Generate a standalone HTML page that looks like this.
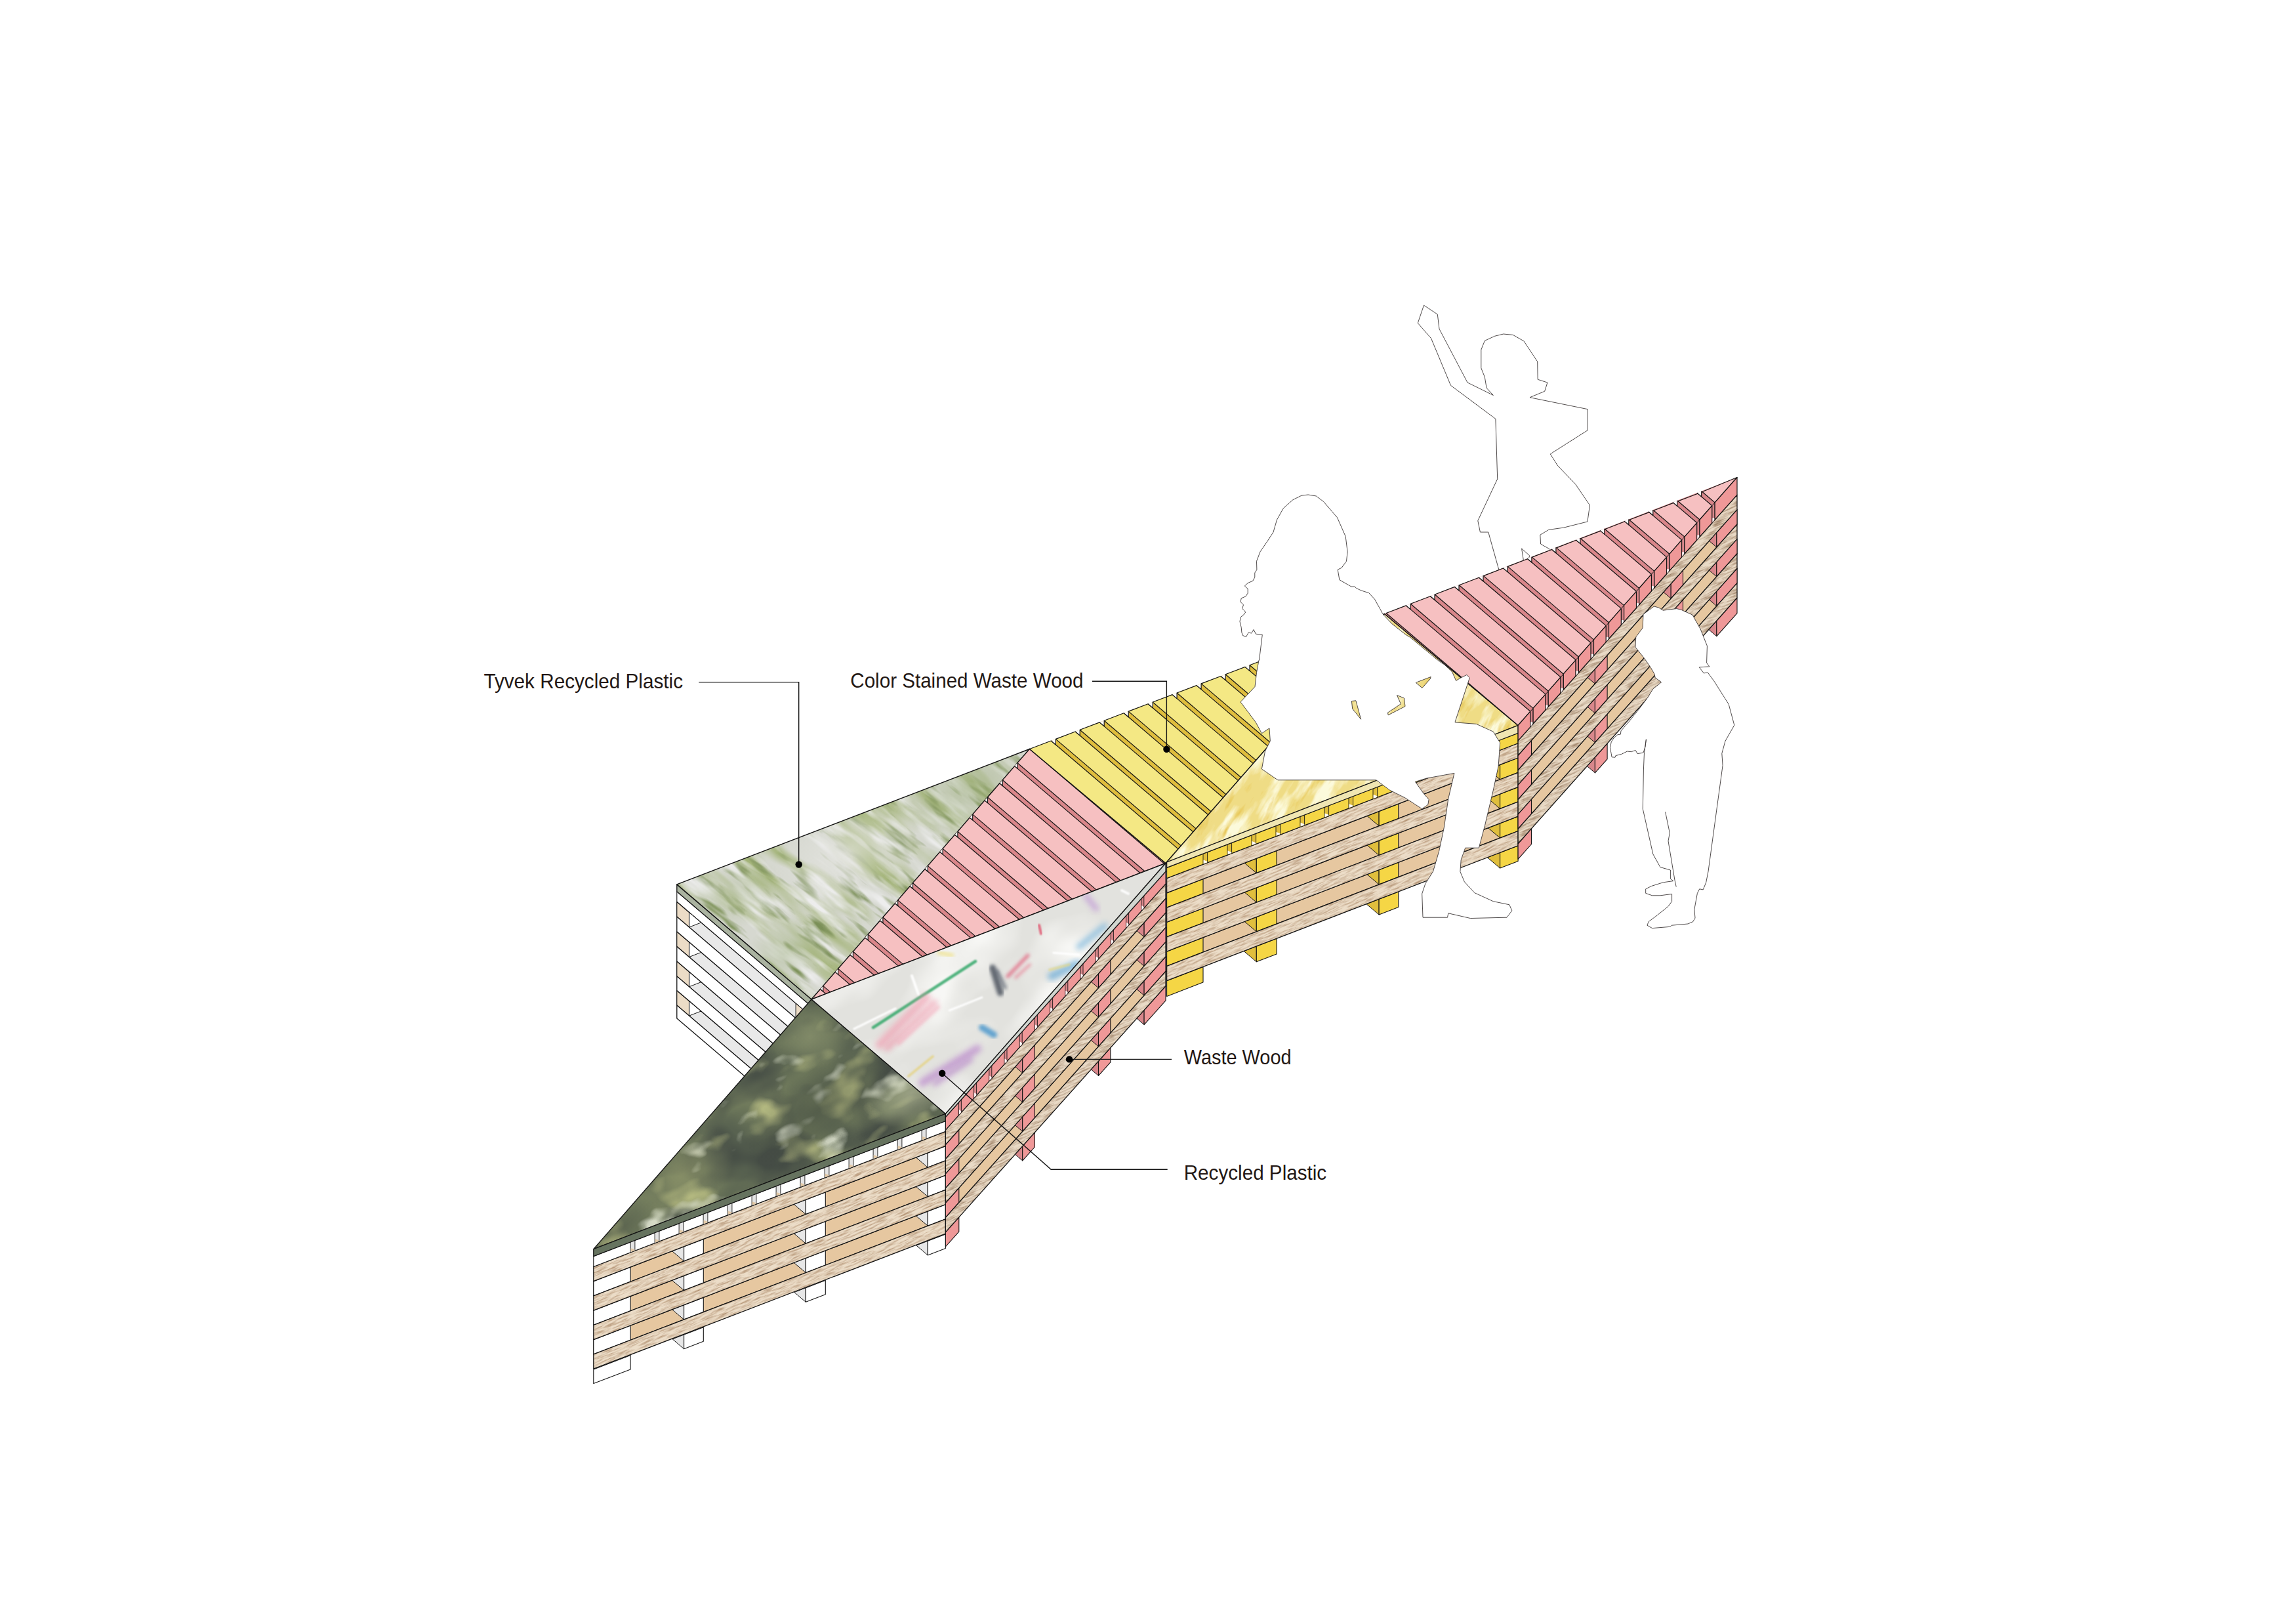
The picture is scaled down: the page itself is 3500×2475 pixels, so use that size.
<!DOCTYPE html>
<html><head><meta charset="utf-8"><title>Bench</title>
<style>html,body{margin:0;padding:0;background:#fff;} svg{display:block;}</style>
</head><body>
<svg xmlns="http://www.w3.org/2000/svg" width="3500" height="2475" viewBox="0 0 3500 2475">
<defs><filter id="fwood" x="0" y="0" width="800" height="240" filterUnits="userSpaceOnUse" color-interpolation-filters="sRGB">
<feTurbulence type="fractalNoise" baseFrequency="0.05 0.45" numOctaves="4" seed="7" stitchTiles="stitch" result="n"/>
<feColorMatrix in="n" type="matrix" values="0 0 0 0 0.66  0 0 0 0 0.52  0 0 0 0 0.39  -1.9 0 0 0 1.12" result="s"/>
<feComposite in="s" in2="SourceGraphic" operator="over"/>
</filter>
<pattern id="wood" patternUnits="userSpaceOnUse" width="800" height="240" patternTransform="rotate(-24)">
<rect width="800" height="240" fill="#ecddc8" filter="url(#fwood)"/>
</pattern>
<filter id="fwoodR" x="0" y="0" width="800" height="240" filterUnits="userSpaceOnUse" color-interpolation-filters="sRGB">
<feTurbulence type="fractalNoise" baseFrequency="0.05 0.45" numOctaves="4" seed="5" stitchTiles="stitch" result="n"/>
<feColorMatrix in="n" type="matrix" values="0 0 0 0 0.58  0 0 0 0 0.46  0 0 0 0 0.35  -2.0 0 0 0 1.18" result="s"/>
<feComposite in="s" in2="SourceGraphic" operator="over"/>
</filter>
<pattern id="woodR" patternUnits="userSpaceOnUse" width="800" height="240" patternTransform="rotate(-24)">
<rect width="800" height="240" fill="#e9dac6" filter="url(#fwoodR)"/>
</pattern>
<filter id="ty1" x="0" y="0" width="1" height="1" color-interpolation-filters="sRGB">
<feTurbulence type="fractalNoise" baseFrequency="0.006 0.025" numOctaves="3" seed="21" result="n"/>
<feColorMatrix in="n" type="matrix" values="0 0 0 0 0.62  0 0 0 0 0.69  0 0 0 0 0.44  3.0 0 0 0 -1.22"/>
</filter>
<filter id="ty2" x="0" y="0" width="1" height="1" color-interpolation-filters="sRGB">
<feTurbulence type="fractalNoise" baseFrequency="0.014 0.07" numOctaves="3" seed="22" result="n"/>
<feColorMatrix in="n" type="matrix" values="0 0 0 0 0.48  0 0 0 0 0.56  0 0 0 0 0.34  3.6 0 0 0 -1.95"/>
</filter>
<filter id="ty3" x="0" y="0" width="1" height="1" color-interpolation-filters="sRGB">
<feTurbulence type="fractalNoise" baseFrequency="0.012 0.06" numOctaves="3" seed="23" result="n"/>
<feColorMatrix in="n" type="matrix" values="0 0 0 0 0.93  0 0 0 0 0.93  0 0 0 0 0.93  3.0 0 0 0 -1.45"/>
</filter>
<filter id="dg1" x="0" y="0" width="1" height="1" color-interpolation-filters="sRGB">
<feTurbulence type="fractalNoise" baseFrequency="0.007 0.01" numOctaves="3" seed="31" result="n"/>
<feColorMatrix in="n" type="matrix" values="0 0 0 0 0.44  0 0 0 0 0.48  0 0 0 0 0.36  3.5 0 0 0 -1.3"/>
</filter>
<filter id="dg2" x="0" y="0" width="1" height="1" color-interpolation-filters="sRGB">
<feTurbulence type="fractalNoise" baseFrequency="0.012 0.018" numOctaves="3" seed="32" result="n"/>
<feColorMatrix in="n" type="matrix" values="0 0 0 0 0.7  0 0 0 0 0.72  0 0 0 0 0.5  4.0 0 0 0 -2.15"/>
</filter>
<filter id="dg3" x="0" y="0" width="1" height="1" color-interpolation-filters="sRGB">
<feTurbulence type="fractalNoise" baseFrequency="0.009 0.013" numOctaves="3" seed="33" result="n"/>
<feColorMatrix in="n" type="matrix" values="0 0 0 0 0.27  0 0 0 0 0.3  0 0 0 0 0.27  3.5 0 0 0 -1.55"/>
</filter>
<filter id="dg4" x="0" y="0" width="1" height="1" color-interpolation-filters="sRGB">
<feTurbulence type="fractalNoise" baseFrequency="0.015 0.025" numOctaves="3" seed="34" result="n"/>
<feColorMatrix in="n" type="matrix" values="0 0 0 0 0.84  0 0 0 0 0.86  0 0 0 0 0.78  4.5 0 0 0 -2.7"/>
</filter>
<filter id="yt1" x="0" y="0" width="1" height="1" color-interpolation-filters="sRGB">
<feTurbulence type="fractalNoise" baseFrequency="0.015 0.06" numOctaves="4" seed="41" result="n"/>
<feColorMatrix in="n" type="matrix" values="0 0 0 0 0.99  0 0 0 0 0.98  0 0 0 0 0.86  3.5 0 0 0 -1.55"/>
</filter>
<filter id="yt2" x="0" y="0" width="1" height="1" color-interpolation-filters="sRGB">
<feTurbulence type="fractalNoise" baseFrequency="0.02 0.08" numOctaves="4" seed="42" result="n"/>
<feColorMatrix in="n" type="matrix" values="0 0 0 0 0.9  0 0 0 0 0.76  0 0 0 0 0.3  3.0 0 0 0 -1.8"/>
</filter>
<filter id="rc1" x="0" y="0" width="1" height="1" color-interpolation-filters="sRGB">
<feTurbulence type="fractalNoise" baseFrequency="0.006 0.01" numOctaves="3" seed="51" result="n"/>
<feColorMatrix in="n" type="matrix" values="0 0 0 0 0.97  0 0 0 0 0.97  0 0 0 0 0.96  3.0 0 0 0 -1.3"/>
</filter>
<filter id="blur2" x="-50%" y="-50%" width="200%" height="200%"><feGaussianBlur stdDeviation="1.2"/></filter>
<filter id="blur3" x="-50%" y="-50%" width="200%" height="200%"><feGaussianBlur stdDeviation="2.5"/></filter>
<filter id="blur5" x="-50%" y="-50%" width="200%" height="200%"><feGaussianBlur stdDeviation="4"/></filter>
<clipPath id="cT1"><polygon points="1031.8,1347.9 1569.5,1141.5 1237.0,1523.0"/></clipPath>
<clipPath id="cT6"><polygon points="1777.0,1315.5 2110.5,935.5 2314.1,1105.5"/></clipPath>
<clipPath id="cT3"><polygon points="904.8,1903.6 1237.0,1523.0 1441.4,1697.5"/></clipPath>
<clipPath id="cT4"><polygon points="1237.0,1523.0 1777.0,1315.5 1441.4,1697.5"/></clipPath>
<radialGradient id="gty1"><stop offset="0" stop-color="#e6e6e2" stop-opacity="0.75"/><stop offset="1" stop-color="#e6e6e2" stop-opacity="0"/></radialGradient>
<radialGradient id="gty2"><stop offset="0" stop-color="#8fa468" stop-opacity="0.45"/><stop offset="1" stop-color="#8fa468" stop-opacity="0"/></radialGradient>
<radialGradient id="gty3"><stop offset="0" stop-color="#9cae78" stop-opacity="0.35"/><stop offset="1" stop-color="#9cae78" stop-opacity="0"/></radialGradient>
<radialGradient id="gty4"><stop offset="0" stop-color="#95aa70" stop-opacity="0.35"/><stop offset="1" stop-color="#95aa70" stop-opacity="0"/></radialGradient>
<radialGradient id="gdg1"><stop offset="0" stop-color="#c4c8a8" stop-opacity="0.55"/><stop offset="1" stop-color="#c4c8a8" stop-opacity="0"/></radialGradient>
<radialGradient id="gdg2"><stop offset="0" stop-color="#a8b080" stop-opacity="0.45"/><stop offset="1" stop-color="#a8b080" stop-opacity="0"/></radialGradient>
<radialGradient id="gdg3"><stop offset="0" stop-color="#3e463c" stop-opacity="0.45"/><stop offset="1" stop-color="#3e463c" stop-opacity="0"/></radialGradient>
<radialGradient id="gdg4"><stop offset="0" stop-color="#b0b47a" stop-opacity="0.35"/><stop offset="1" stop-color="#b0b47a" stop-opacity="0"/></radialGradient>
<radialGradient id="gdg5"><stop offset="0" stop-color="#40483e" stop-opacity="0.4"/><stop offset="1" stop-color="#40483e" stop-opacity="0"/></radialGradient></defs>
<rect width="3500" height="2475" fill="#fff"/>
<path d="M2170.5,465.2 L2191.3,479.1 L2194.0,501.3 L2237.0,583.0 L2276.3,602.4 L2266.1,591.3 L2263.3,574.7 L2257.8,560.8 L2257.8,533.1 L2263.3,519.3 L2278.5,512.3 L2291.8,509.0 L2306.3,510.4 L2322.9,519.8 L2343.7,551.1 L2344.2,578.3 L2358.9,583.0 L2354.7,596.3 L2332.0,605.7 L2420.4,623.7 L2420.4,655.6 L2363.3,691.9 L2374.1,709.1 L2401.8,738.2 L2423.5,770.0 L2419.9,795.0 L2383.8,804.1 L2360.8,807.4 L2347.8,815.2 L2348.6,829.1 L2361.7,836.5 L2370.0,843.5 L2334.0,882.3 L2289.6,882.3 L2284.1,865.6 L2268.8,811.0 L2256.4,811.0 L2252.8,793.6 L2282.7,729.9 L2279.9,638.4 L2211.5,587.4 L2181.6,515.7 L2161.3,492.4 Z" fill="#ffffff" stroke="#3a3434" stroke-width="0.9" stroke-linejoin="round" fill-rule="evenodd"/>
<path d="M2319.6,836.0 L2331.7,846.8 L2328.4,857.3 L2322.9,857.3 Z" fill="#ffffff" stroke="#3a3434" stroke-width="0.9" stroke-linejoin="round" fill-rule="evenodd"/>
<polygon points="1031.8,1358.7 1237.0,1533.8 1237.0,1549.6 1031.8,1374.5" fill="#ffffff" stroke="#141414" stroke-width="1.1" stroke-linejoin="round"/>
<polygon points="1031.8,1374.5 1237.0,1549.6 1237.0,1572.2 1031.8,1397.1" fill="#e8e8e8" stroke="#141414" stroke-width="1.1" stroke-linejoin="round"/>
<polygon points="1050.5,1390.5 1068.7,1406.0 1050.5,1413.1" fill="#ffffff" stroke="#141414" stroke-width="1.0" stroke-linejoin="round"/>
<polygon points="1031.8,1374.5 1050.5,1390.5 1050.5,1413.1 1031.8,1397.1" fill="#ecdcc6" stroke="#141414" stroke-width="1.1" stroke-linejoin="round"/>
<polygon points="1213.1,1529.2 1224.9,1539.3 1224.9,1561.9 1213.1,1551.8" fill="#ecdcc6" stroke="#141414" stroke-width="1.0" stroke-linejoin="round"/>
<polygon points="1031.8,1419.8 1237.0,1594.9 1237.0,1617.6 1031.8,1442.5" fill="#e8e8e8" stroke="#141414" stroke-width="1.1" stroke-linejoin="round"/>
<polygon points="1050.5,1435.8 1068.8,1451.4 1050.5,1458.5" fill="#ffffff" stroke="#141414" stroke-width="1.0" stroke-linejoin="round"/>
<polygon points="1031.8,1419.8 1050.5,1435.8 1050.5,1458.5 1031.8,1442.5" fill="#ecdcc6" stroke="#141414" stroke-width="1.1" stroke-linejoin="round"/>
<polygon points="1213.1,1574.5 1224.9,1584.6 1224.9,1607.3 1213.1,1597.2" fill="#ecdcc6" stroke="#141414" stroke-width="1.0" stroke-linejoin="round"/>
<polygon points="1031.8,1465.1 1237.0,1640.2 1237.0,1662.9 1031.8,1487.8" fill="#e8e8e8" stroke="#141414" stroke-width="1.1" stroke-linejoin="round"/>
<polygon points="1050.5,1481.1 1068.8,1496.7 1050.5,1503.8" fill="#ffffff" stroke="#141414" stroke-width="1.0" stroke-linejoin="round"/>
<polygon points="1031.8,1465.1 1050.5,1481.1 1050.5,1503.8 1031.8,1487.8" fill="#ecdcc6" stroke="#141414" stroke-width="1.1" stroke-linejoin="round"/>
<polygon points="1213.1,1619.8 1224.9,1629.9 1224.9,1652.6 1213.1,1642.5" fill="#ecdcc6" stroke="#141414" stroke-width="1.0" stroke-linejoin="round"/>
<polygon points="1031.8,1509.5 1237.0,1684.6 1237.0,1707.2 1031.8,1532.1" fill="#e8e8e8" stroke="#141414" stroke-width="1.1" stroke-linejoin="round"/>
<polygon points="1050.5,1525.5 1068.7,1541.0 1050.5,1548.1" fill="#ffffff" stroke="#141414" stroke-width="1.0" stroke-linejoin="round"/>
<polygon points="1031.8,1509.5 1050.5,1525.5 1050.5,1548.1 1031.8,1532.1" fill="#ecdcc6" stroke="#141414" stroke-width="1.1" stroke-linejoin="round"/>
<polygon points="1213.1,1664.2 1224.9,1674.3 1224.9,1696.9 1213.1,1686.8" fill="#ecdcc6" stroke="#141414" stroke-width="1.0" stroke-linejoin="round"/>
<polygon points="1031.8,1397.1 1237.0,1572.2 1237.0,1594.9 1031.8,1419.8" fill="#ffffff" stroke="#141414" stroke-width="1.3" stroke-linejoin="round"/>
<polygon points="1031.8,1442.5 1237.0,1617.6 1237.0,1640.2 1031.8,1465.1" fill="#ffffff" stroke="#141414" stroke-width="1.3" stroke-linejoin="round"/>
<polygon points="1031.8,1487.8 1237.0,1662.9 1237.0,1684.6 1031.8,1509.5" fill="#ffffff" stroke="#141414" stroke-width="1.3" stroke-linejoin="round"/>
<polygon points="1031.8,1532.1 1237.0,1707.2 1237.0,1727.0 1031.8,1551.9" fill="#ffffff" stroke="#141414" stroke-width="1.3" stroke-linejoin="round"/>
<polygon points="1031.8,1347.9 1237.0,1523.0 1237.0,1533.8 1031.8,1358.7" fill="#aab3a0" stroke="#141414" stroke-width="1.3" stroke-linejoin="round"/>
<g clip-path="url(#cT1)">
<polygon points="1031.8,1347.9 1569.5,1141.5 1237.0,1523.0" fill="#d6d8d0" stroke="none"/>
<rect x="870" y="902" width="860" height="860" filter="url(#ty1)" transform="rotate(38 1301 1332)"/>
<rect x="870" y="902" width="860" height="860" filter="url(#ty2)" transform="rotate(38 1301 1332)"/>
<rect x="870" y="902" width="860" height="860" filter="url(#ty3)" transform="rotate(38 1301 1332)"/>
<ellipse cx="1290" cy="1300" rx="120" ry="70" fill="url(#gty1)" transform="rotate(-25 1290 1300)"/>
<ellipse cx="1480" cy="1200" rx="110" ry="60" fill="url(#gty2)" transform="rotate(-25 1480 1200)"/>
<ellipse cx="1110" cy="1370" rx="90" ry="50" fill="url(#gty3)" transform="rotate(-25 1110 1370)"/>
<ellipse cx="1200" cy="1450" rx="70" ry="50" fill="url(#gty4)" transform="rotate(-25 1200 1450)"/>
</g>
<polygon points="1031.8,1347.9 1569.5,1141.5 1237.0,1523.0" fill="none" stroke="#141414" stroke-width="1.4" stroke-linejoin="round"/>
<polygon points="1569.5,1141.5 1777.0,1315.5 1237.0,1523.0" fill="#d9868a" stroke="none"/>
<line x1="1569.5" y1="1141.5" x2="1777.0" y2="1315.5" stroke="#141414" stroke-width="1.3" stroke-linecap="round"/>
<line x1="1777.0" y1="1315.5" x2="1237.0" y2="1523.0" stroke="#141414" stroke-width="1.3" stroke-linecap="round"/>
<polygon points="1569.5,1141.5 1774.9,1316.3 1745.0,1327.8 1551.0,1162.7" fill="#f6c0c1" stroke="#141414" stroke-width="1.2" stroke-linejoin="round"/>
<polygon points="1546.7,1167.6 1738.0,1330.5 1708.2,1342.0 1528.3,1188.8" fill="#f6c0c1" stroke="#141414" stroke-width="1.2" stroke-linejoin="round"/>
<polygon points="1523.9,1193.8 1701.2,1344.6 1671.3,1356.1 1505.5,1215.0" fill="#f6c0c1" stroke="#141414" stroke-width="1.2" stroke-linejoin="round"/>
<polygon points="1501.1,1219.9 1664.3,1358.8 1634.4,1370.3 1482.7,1241.1" fill="#f6c0c1" stroke="#141414" stroke-width="1.2" stroke-linejoin="round"/>
<polygon points="1478.3,1246.1 1627.4,1373.0 1597.6,1384.5 1459.9,1267.3" fill="#f6c0c1" stroke="#141414" stroke-width="1.2" stroke-linejoin="round"/>
<polygon points="1455.6,1272.2 1590.6,1387.1 1560.7,1398.6 1437.1,1293.4" fill="#f6c0c1" stroke="#141414" stroke-width="1.2" stroke-linejoin="round"/>
<polygon points="1432.8,1298.4 1553.7,1401.3 1523.8,1412.8 1414.3,1319.6" fill="#f6c0c1" stroke="#141414" stroke-width="1.2" stroke-linejoin="round"/>
<polygon points="1410.0,1324.5 1516.8,1415.5 1487.0,1426.9 1391.5,1345.7" fill="#f6c0c1" stroke="#141414" stroke-width="1.2" stroke-linejoin="round"/>
<polygon points="1387.2,1350.7 1480.0,1429.6 1450.1,1441.1 1368.7,1371.9" fill="#f6c0c1" stroke="#141414" stroke-width="1.2" stroke-linejoin="round"/>
<polygon points="1364.4,1376.8 1443.1,1443.8 1413.2,1455.3 1345.9,1398.0" fill="#f6c0c1" stroke="#141414" stroke-width="1.2" stroke-linejoin="round"/>
<polygon points="1341.6,1403.0 1406.2,1458.0 1376.4,1469.4 1323.2,1424.1" fill="#f6c0c1" stroke="#141414" stroke-width="1.2" stroke-linejoin="round"/>
<polygon points="1318.8,1429.1 1369.4,1472.1 1339.5,1483.6 1300.4,1450.3" fill="#f6c0c1" stroke="#141414" stroke-width="1.2" stroke-linejoin="round"/>
<polygon points="1296.0,1455.3 1332.5,1486.3 1302.6,1497.8 1277.6,1476.4" fill="#f6c0c1" stroke="#141414" stroke-width="1.2" stroke-linejoin="round"/>
<polygon points="1273.3,1481.4 1295.6,1500.5 1265.8,1511.9 1254.8,1502.6" fill="#f6c0c1" stroke="#141414" stroke-width="1.2" stroke-linejoin="round"/>
<polygon points="1250.5,1507.5 1258.8,1514.6 1237.0,1523.0" fill="#f6c0c1" stroke="#141414" stroke-width="1.2" stroke-linejoin="round"/>
<polygon points="1022.6,1769.0 1026.9,1764.0 1026.9,1772.7" fill="#ffffff" stroke="none"/><path d="M1022.6,1769.0 L1026.9,1772.7 L1026.9,1764.0" fill="none" stroke="#141414" stroke-width="1.2" stroke-linejoin="round"/>
<polygon points="1045.4,1742.9 1049.7,1737.9 1049.7,1746.5" fill="#ffffff" stroke="none"/><path d="M1045.4,1742.9 L1049.7,1746.5 L1049.7,1737.9" fill="none" stroke="#141414" stroke-width="1.2" stroke-linejoin="round"/>
<polygon points="1068.2,1716.7 1072.5,1711.8 1072.5,1720.4" fill="#ffffff" stroke="none"/><path d="M1068.2,1716.7 L1072.5,1720.4 L1072.5,1711.8" fill="none" stroke="#141414" stroke-width="1.2" stroke-linejoin="round"/>
<polygon points="1090.9,1690.6 1095.3,1685.6 1095.3,1694.2" fill="#ffffff" stroke="none"/><path d="M1090.9,1690.6 L1095.3,1694.2 L1095.3,1685.6" fill="none" stroke="#141414" stroke-width="1.2" stroke-linejoin="round"/>
<polygon points="1113.7,1664.4 1118.1,1659.5 1118.1,1668.1" fill="#ffffff" stroke="none"/><path d="M1113.7,1664.4 L1118.1,1668.1 L1118.1,1659.5" fill="none" stroke="#141414" stroke-width="1.2" stroke-linejoin="round"/>
<polygon points="1136.5,1638.3 1140.9,1633.3 1140.9,1642.0" fill="#ffffff" stroke="none"/><path d="M1136.5,1638.3 L1140.9,1642.0 L1140.9,1633.3" fill="none" stroke="#141414" stroke-width="1.2" stroke-linejoin="round"/>
<polygon points="1159.3,1612.1 1163.6,1607.2 1163.6,1615.8" fill="#ffffff" stroke="none"/><path d="M1159.3,1612.1 L1163.6,1615.8 L1163.6,1607.2" fill="none" stroke="#141414" stroke-width="1.2" stroke-linejoin="round"/>
<polygon points="1182.1,1586.0 1186.4,1581.0 1186.4,1589.7" fill="#ffffff" stroke="none"/><path d="M1182.1,1586.0 L1186.4,1589.7 L1186.4,1581.0" fill="none" stroke="#141414" stroke-width="1.2" stroke-linejoin="round"/>
<polygon points="1204.9,1559.8 1209.2,1554.9 1209.2,1563.5" fill="#ffffff" stroke="none"/><path d="M1204.9,1559.8 L1209.2,1563.5 L1209.2,1554.9" fill="none" stroke="#141414" stroke-width="1.2" stroke-linejoin="round"/>
<polygon points="1227.7,1533.7 1232.0,1528.7 1232.0,1537.4" fill="#ffffff" stroke="none"/><path d="M1227.7,1533.7 L1232.0,1537.4 L1232.0,1528.7" fill="none" stroke="#141414" stroke-width="1.2" stroke-linejoin="round"/>
<polygon points="1250.5,1507.5 1254.8,1502.6 1254.8,1511.2" fill="#ffffff" stroke="none"/><path d="M1250.5,1507.5 L1254.8,1511.2 L1254.8,1502.6" fill="none" stroke="#141414" stroke-width="1.2" stroke-linejoin="round"/>
<polygon points="1273.3,1481.4 1277.6,1476.4 1277.6,1485.1" fill="#ffffff" stroke="none"/><path d="M1273.3,1481.4 L1277.6,1485.1 L1277.6,1476.4" fill="none" stroke="#141414" stroke-width="1.2" stroke-linejoin="round"/>
<polygon points="1296.0,1455.3 1300.4,1450.3 1300.4,1458.9" fill="#ffffff" stroke="none"/><path d="M1296.0,1455.3 L1300.4,1458.9 L1300.4,1450.3" fill="none" stroke="#141414" stroke-width="1.2" stroke-linejoin="round"/>
<polygon points="1318.8,1429.1 1323.2,1424.1 1323.2,1432.8" fill="#ffffff" stroke="none"/><path d="M1318.8,1429.1 L1323.2,1432.8 L1323.2,1424.1" fill="none" stroke="#141414" stroke-width="1.2" stroke-linejoin="round"/>
<polygon points="1341.6,1403.0 1345.9,1398.0 1345.9,1406.6" fill="#ffffff" stroke="none"/><path d="M1341.6,1403.0 L1345.9,1406.6 L1345.9,1398.0" fill="none" stroke="#141414" stroke-width="1.2" stroke-linejoin="round"/>
<polygon points="1364.4,1376.8 1368.7,1371.9 1368.7,1380.5" fill="#ffffff" stroke="none"/><path d="M1364.4,1376.8 L1368.7,1380.5 L1368.7,1371.9" fill="none" stroke="#141414" stroke-width="1.2" stroke-linejoin="round"/>
<polygon points="1387.2,1350.7 1391.5,1345.7 1391.5,1354.3" fill="#ffffff" stroke="none"/><path d="M1387.2,1350.7 L1391.5,1354.3 L1391.5,1345.7" fill="none" stroke="#141414" stroke-width="1.2" stroke-linejoin="round"/>
<polygon points="1410.0,1324.5 1414.3,1319.6 1414.3,1328.2" fill="#ffffff" stroke="none"/><path d="M1410.0,1324.5 L1414.3,1328.2 L1414.3,1319.6" fill="none" stroke="#141414" stroke-width="1.2" stroke-linejoin="round"/>
<polygon points="1432.8,1298.4 1437.1,1293.4 1437.1,1302.0" fill="#ffffff" stroke="none"/><path d="M1432.8,1298.4 L1437.1,1302.0 L1437.1,1293.4" fill="none" stroke="#141414" stroke-width="1.2" stroke-linejoin="round"/>
<polygon points="1455.6,1272.2 1459.9,1267.3 1459.9,1275.9" fill="#ffffff" stroke="none"/><path d="M1455.6,1272.2 L1459.9,1275.9 L1459.9,1267.3" fill="none" stroke="#141414" stroke-width="1.2" stroke-linejoin="round"/>
<polygon points="1478.3,1246.1 1482.7,1241.1 1482.7,1249.8" fill="#ffffff" stroke="none"/><path d="M1478.3,1246.1 L1482.7,1249.8 L1482.7,1241.1" fill="none" stroke="#141414" stroke-width="1.2" stroke-linejoin="round"/>
<polygon points="1501.1,1219.9 1505.5,1215.0 1505.5,1223.6" fill="#ffffff" stroke="none"/><path d="M1501.1,1219.9 L1505.5,1223.6 L1505.5,1215.0" fill="none" stroke="#141414" stroke-width="1.2" stroke-linejoin="round"/>
<polygon points="1523.9,1193.8 1528.3,1188.8 1528.3,1197.5" fill="#ffffff" stroke="none"/><path d="M1523.9,1193.8 L1528.3,1197.5 L1528.3,1188.8" fill="none" stroke="#141414" stroke-width="1.2" stroke-linejoin="round"/>
<polygon points="1546.7,1167.6 1551.0,1162.7 1551.0,1171.3" fill="#ffffff" stroke="none"/><path d="M1546.7,1167.6 L1551.0,1171.3 L1551.0,1162.7" fill="none" stroke="#141414" stroke-width="1.2" stroke-linejoin="round"/>
<polygon points="1569.5,1141.5 2110.5,935.5 1777.0,1315.5" fill="#dfbd3d" stroke="none"/>
<line x1="2110.5" y1="935.5" x2="1777.0" y2="1315.5" stroke="#141414" stroke-width="1.3" stroke-linecap="round"/>
<line x1="1777.0" y1="1315.5" x2="1569.5" y2="1141.5" stroke="#141414" stroke-width="1.3" stroke-linecap="round"/>
<polygon points="1602.3,1129.0 1796.0,1293.9 1777.0,1315.5 1569.5,1141.5" fill="#f4e884" stroke="#141414" stroke-width="1.2" stroke-linejoin="round"/>
<polygon points="1639.2,1115.0 1818.8,1267.8 1800.3,1288.9 1609.3,1126.4" fill="#f4e884" stroke="#141414" stroke-width="1.2" stroke-linejoin="round"/>
<polygon points="1676.2,1100.9 1841.7,1241.8 1823.2,1262.9 1646.2,1112.3" fill="#f4e884" stroke="#141414" stroke-width="1.2" stroke-linejoin="round"/>
<polygon points="1713.2,1086.8 1864.6,1215.7 1846.1,1236.8 1683.2,1098.2" fill="#f4e884" stroke="#141414" stroke-width="1.2" stroke-linejoin="round"/>
<polygon points="1750.1,1072.7 1887.5,1189.6 1868.9,1210.7 1720.2,1084.1" fill="#f4e884" stroke="#141414" stroke-width="1.2" stroke-linejoin="round"/>
<polygon points="1787.1,1058.6 1910.4,1163.6 1891.8,1184.7 1757.2,1070.0" fill="#f4e884" stroke="#141414" stroke-width="1.2" stroke-linejoin="round"/>
<polygon points="1824.1,1044.6 1933.2,1137.5 1914.7,1158.6 1794.1,1056.0" fill="#f4e884" stroke="#141414" stroke-width="1.2" stroke-linejoin="round"/>
<polygon points="1861.0,1030.5 1956.1,1111.4 1937.6,1132.5 1831.1,1041.9" fill="#f4e884" stroke="#141414" stroke-width="1.2" stroke-linejoin="round"/>
<polygon points="1898.0,1016.4 1979.0,1085.3 1960.5,1106.5 1868.1,1027.8" fill="#f4e884" stroke="#141414" stroke-width="1.2" stroke-linejoin="round"/>
<polygon points="1935.0,1002.3 2001.9,1059.3 1983.3,1080.4 1905.0,1013.7" fill="#f4e884" stroke="#141414" stroke-width="1.2" stroke-linejoin="round"/>
<polygon points="1971.9,988.3 2024.8,1033.2 2006.2,1054.3 1942.0,999.7" fill="#f4e884" stroke="#141414" stroke-width="1.2" stroke-linejoin="round"/>
<polygon points="2008.9,974.2 2047.6,1007.1 2029.1,1028.3 1979.0,985.6" fill="#f4e884" stroke="#141414" stroke-width="1.2" stroke-linejoin="round"/>
<polygon points="2045.9,960.1 2070.5,981.1 2052.0,1002.2 2015.9,971.5" fill="#f4e884" stroke="#141414" stroke-width="1.2" stroke-linejoin="round"/>
<polygon points="2082.9,946.0 2093.4,955.0 2074.9,976.1 2052.9,957.4" fill="#f4e884" stroke="#141414" stroke-width="1.2" stroke-linejoin="round"/>
<polygon points="2097.7,950.0 2089.9,943.4 2110.5,935.5" fill="#f4e884" stroke="#141414" stroke-width="1.2" stroke-linejoin="round"/>
<polygon points="1602.3,1129.0 1609.3,1126.4 1609.3,1135.0" fill="#ffffff" stroke="none"/><path d="M1602.3,1129.0 L1609.3,1135.0 L1609.3,1126.4" fill="none" stroke="#141414" stroke-width="1.2" stroke-linejoin="round"/>
<polygon points="1639.2,1115.0 1646.2,1112.3 1646.2,1120.9" fill="#ffffff" stroke="none"/><path d="M1639.2,1115.0 L1646.2,1120.9 L1646.2,1112.3" fill="none" stroke="#141414" stroke-width="1.2" stroke-linejoin="round"/>
<polygon points="1676.2,1100.9 1683.2,1098.2 1683.2,1106.8" fill="#ffffff" stroke="none"/><path d="M1676.2,1100.9 L1683.2,1106.8 L1683.2,1098.2" fill="none" stroke="#141414" stroke-width="1.2" stroke-linejoin="round"/>
<polygon points="1713.2,1086.8 1720.2,1084.1 1720.2,1092.7" fill="#ffffff" stroke="none"/><path d="M1713.2,1086.8 L1720.2,1092.7 L1720.2,1084.1" fill="none" stroke="#141414" stroke-width="1.2" stroke-linejoin="round"/>
<polygon points="1750.1,1072.7 1757.2,1070.0 1757.2,1078.7" fill="#ffffff" stroke="none"/><path d="M1750.1,1072.7 L1757.2,1078.7 L1757.2,1070.0" fill="none" stroke="#141414" stroke-width="1.2" stroke-linejoin="round"/>
<polygon points="1787.1,1058.6 1794.1,1056.0 1794.1,1064.6" fill="#ffffff" stroke="none"/><path d="M1787.1,1058.6 L1794.1,1064.6 L1794.1,1056.0" fill="none" stroke="#141414" stroke-width="1.2" stroke-linejoin="round"/>
<polygon points="1824.1,1044.6 1831.1,1041.9 1831.1,1050.5" fill="#ffffff" stroke="none"/><path d="M1824.1,1044.6 L1831.1,1050.5 L1831.1,1041.9" fill="none" stroke="#141414" stroke-width="1.2" stroke-linejoin="round"/>
<polygon points="1861.0,1030.5 1868.1,1027.8 1868.1,1036.4" fill="#ffffff" stroke="none"/><path d="M1861.0,1030.5 L1868.1,1036.4 L1868.1,1027.8" fill="none" stroke="#141414" stroke-width="1.2" stroke-linejoin="round"/>
<polygon points="1898.0,1016.4 1905.0,1013.7 1905.0,1022.4" fill="#ffffff" stroke="none"/><path d="M1898.0,1016.4 L1905.0,1022.4 L1905.0,1013.7" fill="none" stroke="#141414" stroke-width="1.2" stroke-linejoin="round"/>
<polygon points="1935.0,1002.3 1942.0,999.7 1942.0,1008.3" fill="#ffffff" stroke="none"/><path d="M1935.0,1002.3 L1942.0,1008.3 L1942.0,999.7" fill="none" stroke="#141414" stroke-width="1.2" stroke-linejoin="round"/>
<polygon points="1971.9,988.3 1979.0,985.6 1979.0,994.2" fill="#ffffff" stroke="none"/><path d="M1971.9,988.3 L1979.0,994.2 L1979.0,985.6" fill="none" stroke="#141414" stroke-width="1.2" stroke-linejoin="round"/>
<polygon points="2008.9,974.2 2015.9,971.5 2015.9,980.1" fill="#ffffff" stroke="none"/><path d="M2008.9,974.2 L2015.9,980.1 L2015.9,971.5" fill="none" stroke="#141414" stroke-width="1.2" stroke-linejoin="round"/>
<polygon points="2045.9,960.1 2052.9,957.4 2052.9,966.1" fill="#ffffff" stroke="none"/><path d="M2045.9,960.1 L2052.9,966.1 L2052.9,957.4" fill="none" stroke="#141414" stroke-width="1.2" stroke-linejoin="round"/>
<polygon points="2082.9,946.0 2089.9,943.4 2089.9,952.0" fill="#ffffff" stroke="none"/><path d="M2082.9,946.0 L2089.9,952.0 L2089.9,943.4" fill="none" stroke="#141414" stroke-width="1.2" stroke-linejoin="round"/>
<polygon points="2119.8,932.0 2126.8,929.3 2126.8,937.9" fill="#ffffff" stroke="none"/><path d="M2119.8,932.0 L2126.8,937.9 L2126.8,929.3" fill="none" stroke="#141414" stroke-width="1.2" stroke-linejoin="round"/>
<g clip-path="url(#cT6)">
<polygon points="1777.0,1315.5 2110.5,935.5 2314.1,1105.5" fill="#efdc85" stroke="none"/>
<rect x="1616" y="696" width="859" height="859" filter="url(#yt1)" transform="rotate(-60 2046 1126)"/>
<rect x="1616" y="696" width="859" height="859" filter="url(#yt2)" transform="rotate(-60 2046 1126)"/>
</g>
<polygon points="1777.0,1315.5 2110.5,935.5 2314.1,1105.5" fill="none" stroke="#141414" stroke-width="1.4" stroke-linejoin="round"/>
<polygon points="1778.6,1360.9 2314.1,1155.0 2314.1,1177.3 1778.6,1383.2" fill="#e6c7a0" stroke="#141414" stroke-width="1.1" stroke-linejoin="round"/>
<polygon points="1778.6,1405.5 2314.1,1199.6 2314.1,1221.9 1778.6,1427.8" fill="#e6c7a0" stroke="#141414" stroke-width="1.1" stroke-linejoin="round"/>
<polygon points="1778.6,1450.1 2314.1,1244.2 2314.1,1266.5 1778.6,1472.4" fill="#e6c7a0" stroke="#141414" stroke-width="1.1" stroke-linejoin="round"/>
<polygon points="1778.6,1360.9 1834.0,1339.6 1834.0,1361.9 1778.6,1383.2" fill="#f5d645" stroke="#141414" stroke-width="1.1" stroke-linejoin="round"/>
<polygon points="1915.3,1308.3 1915.3,1330.6 1897.2,1315.3" fill="#e0be3d" stroke="#141414" stroke-width="1.0" stroke-linejoin="round"/>
<polygon points="1915.3,1308.3 1946.1,1296.5 1946.1,1318.8 1915.3,1330.6" fill="#f5d645" stroke="#141414" stroke-width="1.1" stroke-linejoin="round"/>
<polygon points="2102.1,1236.5 2102.1,1258.8 2084.0,1243.5" fill="#e0be3d" stroke="#141414" stroke-width="1.0" stroke-linejoin="round"/>
<polygon points="2102.1,1236.5 2131.8,1225.1 2131.8,1247.4 2102.1,1258.8" fill="#f5d645" stroke="#141414" stroke-width="1.1" stroke-linejoin="round"/>
<polygon points="2286.6,1165.6 2286.6,1187.9 2268.5,1172.5" fill="#e0be3d" stroke="#141414" stroke-width="1.0" stroke-linejoin="round"/>
<polygon points="2286.6,1165.6 2314.1,1155.0 2314.1,1177.3 2286.6,1187.9" fill="#f5d645" stroke="#141414" stroke-width="1.1" stroke-linejoin="round"/>
<polygon points="1778.6,1405.5 1834.0,1384.2 1834.0,1406.5 1778.6,1427.8" fill="#f5d645" stroke="#141414" stroke-width="1.1" stroke-linejoin="round"/>
<polygon points="1915.3,1352.9 1915.3,1375.2 1897.2,1359.9" fill="#e0be3d" stroke="#141414" stroke-width="1.0" stroke-linejoin="round"/>
<polygon points="1915.3,1352.9 1946.1,1341.1 1946.1,1363.4 1915.3,1375.2" fill="#f5d645" stroke="#141414" stroke-width="1.1" stroke-linejoin="round"/>
<polygon points="2102.1,1281.1 2102.1,1303.4 2084.0,1288.1" fill="#e0be3d" stroke="#141414" stroke-width="1.0" stroke-linejoin="round"/>
<polygon points="2102.1,1281.1 2131.8,1269.7 2131.8,1292.0 2102.1,1303.4" fill="#f5d645" stroke="#141414" stroke-width="1.1" stroke-linejoin="round"/>
<polygon points="2286.6,1210.2 2286.6,1232.5 2268.5,1217.1" fill="#e0be3d" stroke="#141414" stroke-width="1.0" stroke-linejoin="round"/>
<polygon points="2286.6,1210.2 2314.1,1199.6 2314.1,1221.9 2286.6,1232.5" fill="#f5d645" stroke="#141414" stroke-width="1.1" stroke-linejoin="round"/>
<polygon points="1778.6,1450.1 1834.0,1428.8 1834.0,1451.1 1778.6,1472.4" fill="#f5d645" stroke="#141414" stroke-width="1.1" stroke-linejoin="round"/>
<polygon points="1915.3,1397.5 1915.3,1419.8 1897.2,1404.5" fill="#e0be3d" stroke="#141414" stroke-width="1.0" stroke-linejoin="round"/>
<polygon points="1915.3,1397.5 1946.1,1385.7 1946.1,1408.0 1915.3,1419.8" fill="#f5d645" stroke="#141414" stroke-width="1.1" stroke-linejoin="round"/>
<polygon points="2102.1,1325.7 2102.1,1348.0 2084.0,1332.7" fill="#e0be3d" stroke="#141414" stroke-width="1.0" stroke-linejoin="round"/>
<polygon points="2102.1,1325.7 2131.8,1314.3 2131.8,1336.6 2102.1,1348.0" fill="#f5d645" stroke="#141414" stroke-width="1.1" stroke-linejoin="round"/>
<polygon points="2286.6,1254.8 2286.6,1277.1 2268.5,1261.7" fill="#e0be3d" stroke="#141414" stroke-width="1.0" stroke-linejoin="round"/>
<polygon points="2286.6,1254.8 2314.1,1244.2 2314.1,1266.5 2286.6,1277.1" fill="#f5d645" stroke="#141414" stroke-width="1.1" stroke-linejoin="round"/>
<polygon points="1778.6,1494.7 1834.0,1473.4 1834.0,1497.1 1778.6,1518.4" fill="#f5d645" stroke="#141414" stroke-width="1.1" stroke-linejoin="round"/>
<polygon points="1915.3,1442.1 1915.3,1465.8 1896.1,1449.5" fill="#e0be3d" stroke="#141414" stroke-width="1.0" stroke-linejoin="round"/>
<polygon points="1915.3,1442.1 1946.1,1430.3 1946.1,1454.0 1915.3,1465.8" fill="#f5d645" stroke="#141414" stroke-width="1.1" stroke-linejoin="round"/>
<polygon points="2102.1,1370.3 2102.1,1394.0 2082.9,1377.7" fill="#e0be3d" stroke="#141414" stroke-width="1.0" stroke-linejoin="round"/>
<polygon points="2102.1,1370.3 2131.8,1358.9 2131.8,1382.6 2102.1,1394.0" fill="#f5d645" stroke="#141414" stroke-width="1.1" stroke-linejoin="round"/>
<polygon points="2286.6,1299.4 2286.6,1323.1 2267.4,1306.8" fill="#e0be3d" stroke="#141414" stroke-width="1.0" stroke-linejoin="round"/>
<polygon points="2286.6,1299.4 2314.1,1288.8 2314.1,1312.5 2286.6,1323.1" fill="#f5d645" stroke="#141414" stroke-width="1.1" stroke-linejoin="round"/>
<polygon points="1778.6,1338.6 2314.1,1132.7 2314.1,1155.0 1778.6,1360.9" fill="url(#wood)" stroke="#141414" stroke-width="1.3" stroke-linejoin="round"/>
<polygon points="1778.6,1383.2 2314.1,1177.3 2314.1,1199.6 1778.6,1405.5" fill="url(#wood)" stroke="#141414" stroke-width="1.3" stroke-linejoin="round"/>
<polygon points="1778.6,1427.8 2314.1,1221.9 2314.1,1244.2 1778.6,1450.1" fill="url(#wood)" stroke="#141414" stroke-width="1.3" stroke-linejoin="round"/>
<polygon points="1778.6,1472.4 2314.1,1266.5 2314.1,1288.8 1778.6,1494.7" fill="url(#wood)" stroke="#141414" stroke-width="1.3" stroke-linejoin="round"/>
<polygon points="1778.6,1322.4 2314.1,1116.5 2314.1,1132.7 1778.6,1338.6" fill="#f5d645" stroke="#141414" stroke-width="1.1" stroke-linejoin="round"/>
<polygon points="1834.0,1298.1 1840.6,1295.6 1840.6,1314.8 1834.0,1317.3" fill="#e0be3d" stroke="#141414" stroke-width="0.9" stroke-linejoin="round"/>
<polygon points="1834.6,1310.6 1840.3,1312.9 1840.3,1314.3 1834.6,1316.5" fill="#ffffff" stroke="none"/>
<polygon points="1871.0,1283.9 1877.6,1281.3 1877.6,1300.5 1871.0,1303.1" fill="#e0be3d" stroke="#141414" stroke-width="0.9" stroke-linejoin="round"/>
<polygon points="1871.6,1296.4 1877.3,1298.7 1877.3,1300.0 1871.6,1302.2" fill="#ffffff" stroke="none"/>
<polygon points="1908.0,1269.6 1914.6,1267.1 1914.6,1286.3 1908.0,1288.8" fill="#e0be3d" stroke="#141414" stroke-width="0.9" stroke-linejoin="round"/>
<polygon points="1908.6,1282.1 1914.3,1284.5 1914.3,1285.8 1908.6,1288.0" fill="#ffffff" stroke="none"/>
<polygon points="1945.0,1255.4 1951.6,1252.9 1951.6,1272.1 1945.0,1274.6" fill="#e0be3d" stroke="#141414" stroke-width="0.9" stroke-linejoin="round"/>
<polygon points="1945.6,1267.9 1951.3,1270.3 1951.3,1271.6 1945.6,1273.8" fill="#ffffff" stroke="none"/>
<polygon points="1982.0,1241.2 1988.6,1238.7 1988.6,1257.9 1982.0,1260.4" fill="#e0be3d" stroke="#141414" stroke-width="0.9" stroke-linejoin="round"/>
<polygon points="1982.6,1253.7 1988.3,1256.0 1988.3,1257.4 1982.6,1259.6" fill="#ffffff" stroke="none"/>
<polygon points="2019.0,1227.0 2025.6,1224.4 2025.6,1243.6 2019.0,1246.2" fill="#e0be3d" stroke="#141414" stroke-width="0.9" stroke-linejoin="round"/>
<polygon points="2019.6,1239.5 2025.3,1241.8 2025.3,1243.1 2019.6,1245.3" fill="#ffffff" stroke="none"/>
<polygon points="2056.0,1212.7 2062.6,1210.2 2062.6,1229.4 2056.0,1231.9" fill="#e0be3d" stroke="#141414" stroke-width="0.9" stroke-linejoin="round"/>
<polygon points="2056.6,1225.2 2062.3,1227.6 2062.3,1228.9 2056.6,1231.1" fill="#ffffff" stroke="none"/>
<polygon points="2093.0,1198.5 2099.6,1196.0 2099.6,1215.2 2093.0,1217.7" fill="#e0be3d" stroke="#141414" stroke-width="0.9" stroke-linejoin="round"/>
<polygon points="2093.6,1211.0 2099.3,1213.3 2099.3,1214.7 2093.6,1216.9" fill="#ffffff" stroke="none"/>
<polygon points="2130.0,1184.3 2136.6,1181.7 2136.6,1200.9 2130.0,1203.5" fill="#e0be3d" stroke="#141414" stroke-width="0.9" stroke-linejoin="round"/>
<polygon points="2130.6,1196.8 2136.3,1199.1 2136.3,1200.5 2130.6,1202.7" fill="#ffffff" stroke="none"/>
<polygon points="2167.0,1170.1 2173.6,1167.5 2173.6,1186.7 2167.0,1189.3" fill="#e0be3d" stroke="#141414" stroke-width="0.9" stroke-linejoin="round"/>
<polygon points="2167.6,1182.5 2173.3,1184.9 2173.3,1186.2 2167.6,1188.4" fill="#ffffff" stroke="none"/>
<polygon points="2204.0,1155.8 2210.6,1153.3 2210.6,1172.5 2204.0,1175.0" fill="#e0be3d" stroke="#141414" stroke-width="0.9" stroke-linejoin="round"/>
<polygon points="2204.6,1168.3 2210.3,1170.7 2210.3,1172.0 2204.6,1174.2" fill="#ffffff" stroke="none"/>
<polygon points="2241.0,1141.6 2247.6,1139.1 2247.6,1158.3 2241.0,1160.8" fill="#e0be3d" stroke="#141414" stroke-width="0.9" stroke-linejoin="round"/>
<polygon points="2241.6,1154.1 2247.3,1156.4 2247.3,1157.8 2241.6,1160.0" fill="#ffffff" stroke="none"/>
<polygon points="2278.0,1127.4 2284.6,1124.8 2284.6,1144.0 2278.0,1146.6" fill="#e0be3d" stroke="#141414" stroke-width="0.9" stroke-linejoin="round"/>
<polygon points="2278.6,1139.9 2284.3,1142.2 2284.3,1143.6 2278.6,1145.8" fill="#ffffff" stroke="none"/>
<polygon points="1778.6,1313.8 2314.1,1105.5 2314.1,1117.4 1778.6,1322.4" fill="#f0e6b2" stroke="#141414" stroke-width="1.3" stroke-linejoin="round"/>
<polygon points="2314.1,1151.3 2648.0,776.6 2648.0,799.0 2314.1,1173.7" fill="#e6c7a0" stroke="#141414" stroke-width="1.1" stroke-linejoin="round"/>
<polygon points="2314.1,1196.1 2648.0,821.4 2648.0,843.8 2314.1,1218.5" fill="#e6c7a0" stroke="#141414" stroke-width="1.1" stroke-linejoin="round"/>
<polygon points="2314.1,1240.9 2648.0,866.2 2648.0,888.6 2314.1,1263.3" fill="#e6c7a0" stroke="#141414" stroke-width="1.1" stroke-linejoin="round"/>
<polygon points="2314.1,1151.3 2334.5,1128.4 2334.5,1150.8 2314.1,1173.7" fill="#ef9898" stroke="#141414" stroke-width="1.1" stroke-linejoin="round"/>
<polygon points="2431.4,1019.7 2431.4,1042.1 2420.0,1032.4" fill="#d8878b" stroke="#141414" stroke-width="1.0" stroke-linejoin="round"/>
<polygon points="2431.4,1019.7 2450.1,998.7 2450.1,1021.1 2431.4,1042.1" fill="#ef9898" stroke="#141414" stroke-width="1.1" stroke-linejoin="round"/>
<polygon points="2547.2,889.7 2547.2,912.1 2535.8,902.5" fill="#d8878b" stroke="#141414" stroke-width="1.0" stroke-linejoin="round"/>
<polygon points="2547.2,889.7 2565.5,869.2 2565.5,891.6 2547.2,912.1" fill="#ef9898" stroke="#141414" stroke-width="1.1" stroke-linejoin="round"/>
<polygon points="2616.8,811.6 2616.8,834.0 2605.4,824.3" fill="#d8878b" stroke="#141414" stroke-width="1.0" stroke-linejoin="round"/>
<polygon points="2616.8,811.6 2648.0,776.6 2648.0,799.0 2616.8,834.0" fill="#ef9898" stroke="#141414" stroke-width="1.1" stroke-linejoin="round"/>
<polygon points="2314.1,1196.1 2334.5,1173.2 2334.5,1195.6 2314.1,1218.5" fill="#ef9898" stroke="#141414" stroke-width="1.1" stroke-linejoin="round"/>
<polygon points="2431.4,1064.5 2431.4,1086.9 2420.0,1077.2" fill="#d8878b" stroke="#141414" stroke-width="1.0" stroke-linejoin="round"/>
<polygon points="2431.4,1064.5 2450.1,1043.5 2450.1,1065.9 2431.4,1086.9" fill="#ef9898" stroke="#141414" stroke-width="1.1" stroke-linejoin="round"/>
<polygon points="2547.2,934.5 2547.2,956.9 2535.8,947.3" fill="#d8878b" stroke="#141414" stroke-width="1.0" stroke-linejoin="round"/>
<polygon points="2547.2,934.5 2565.5,914.0 2565.5,936.4 2547.2,956.9" fill="#ef9898" stroke="#141414" stroke-width="1.1" stroke-linejoin="round"/>
<polygon points="2616.8,856.4 2616.8,878.8 2605.4,869.1" fill="#d8878b" stroke="#141414" stroke-width="1.0" stroke-linejoin="round"/>
<polygon points="2616.8,856.4 2648.0,821.4 2648.0,843.8 2616.8,878.8" fill="#ef9898" stroke="#141414" stroke-width="1.1" stroke-linejoin="round"/>
<polygon points="2314.1,1240.9 2334.5,1218.0 2334.5,1240.4 2314.1,1263.3" fill="#ef9898" stroke="#141414" stroke-width="1.1" stroke-linejoin="round"/>
<polygon points="2431.4,1109.3 2431.4,1131.7 2420.0,1122.0" fill="#d8878b" stroke="#141414" stroke-width="1.0" stroke-linejoin="round"/>
<polygon points="2431.4,1109.3 2450.1,1088.3 2450.1,1110.7 2431.4,1131.7" fill="#ef9898" stroke="#141414" stroke-width="1.1" stroke-linejoin="round"/>
<polygon points="2547.2,979.3 2547.2,1001.7 2535.8,992.1" fill="#d8878b" stroke="#141414" stroke-width="1.0" stroke-linejoin="round"/>
<polygon points="2547.2,979.3 2565.5,958.8 2565.5,981.2 2547.2,1001.7" fill="#ef9898" stroke="#141414" stroke-width="1.1" stroke-linejoin="round"/>
<polygon points="2616.8,901.2 2616.8,923.6 2605.4,913.9" fill="#d8878b" stroke="#141414" stroke-width="1.0" stroke-linejoin="round"/>
<polygon points="2616.8,901.2 2648.0,866.2 2648.0,888.6 2616.8,923.6" fill="#ef9898" stroke="#141414" stroke-width="1.1" stroke-linejoin="round"/>
<polygon points="2314.1,1285.8 2334.5,1262.9 2334.5,1286.5 2314.1,1309.4" fill="#ef9898" stroke="#141414" stroke-width="1.1" stroke-linejoin="round"/>
<polygon points="2431.4,1154.2 2431.4,1177.8 2419.4,1167.6" fill="#d8878b" stroke="#141414" stroke-width="1.0" stroke-linejoin="round"/>
<polygon points="2431.4,1154.2 2450.1,1133.2 2450.1,1156.8 2431.4,1177.8" fill="#ef9898" stroke="#141414" stroke-width="1.1" stroke-linejoin="round"/>
<polygon points="2547.2,1024.2 2547.2,1047.8 2535.2,1037.6" fill="#d8878b" stroke="#141414" stroke-width="1.0" stroke-linejoin="round"/>
<polygon points="2547.2,1024.2 2565.5,1003.7 2565.5,1027.3 2547.2,1047.8" fill="#ef9898" stroke="#141414" stroke-width="1.1" stroke-linejoin="round"/>
<polygon points="2616.8,946.1 2616.8,969.7 2604.8,959.5" fill="#d8878b" stroke="#141414" stroke-width="1.0" stroke-linejoin="round"/>
<polygon points="2616.8,946.1 2648.0,911.1 2648.0,934.7 2616.8,969.7" fill="#ef9898" stroke="#141414" stroke-width="1.1" stroke-linejoin="round"/>
<polygon points="2314.1,1128.9 2648.0,754.2 2648.0,776.6 2314.1,1151.3" fill="url(#woodR)" stroke="#141414" stroke-width="1.3" stroke-linejoin="round"/>
<polygon points="2314.1,1173.7 2648.0,799.0 2648.0,821.4 2314.1,1196.1" fill="url(#woodR)" stroke="#141414" stroke-width="1.3" stroke-linejoin="round"/>
<polygon points="2314.1,1218.5 2648.0,843.8 2648.0,866.2 2314.1,1240.9" fill="url(#woodR)" stroke="#141414" stroke-width="1.3" stroke-linejoin="round"/>
<polygon points="2314.1,1263.3 2648.0,888.6 2648.0,911.0 2314.1,1285.7" fill="url(#woodR)" stroke="#141414" stroke-width="1.3" stroke-linejoin="round"/>
<polygon points="2110.5,935.5 2648.0,727.5 2314.1,1105.5" fill="#d9868a" stroke="none"/>
<line x1="2110.5" y1="935.5" x2="2314.1" y2="1105.5" stroke="#141414" stroke-width="1.3" stroke-linecap="round"/>
<polygon points="2113.1,934.5 2143.4,922.9 2332.9,1084.2 2314.1,1105.5" fill="#f6c0c1" stroke="#141414" stroke-width="1.2" stroke-linejoin="round"/>
<polygon points="2150.2,920.3 2180.4,908.7 2356.0,1058.1 2337.1,1079.4" fill="#f6c0c1" stroke="#141414" stroke-width="1.2" stroke-linejoin="round"/>
<polygon points="2187.2,906.0 2217.5,894.4 2379.1,1032.0 2360.2,1053.3" fill="#f6c0c1" stroke="#141414" stroke-width="1.2" stroke-linejoin="round"/>
<polygon points="2224.3,891.8 2254.6,880.2 2402.1,1005.8 2383.3,1027.2" fill="#f6c0c1" stroke="#141414" stroke-width="1.2" stroke-linejoin="round"/>
<polygon points="2261.4,877.6 2291.6,866.0 2425.2,979.7 2406.4,1001.0" fill="#f6c0c1" stroke="#141414" stroke-width="1.2" stroke-linejoin="round"/>
<polygon points="2298.4,863.4 2328.7,851.8 2448.3,953.6 2429.5,974.9" fill="#f6c0c1" stroke="#141414" stroke-width="1.2" stroke-linejoin="round"/>
<polygon points="2335.5,849.1 2365.7,837.5 2471.4,927.4 2452.5,948.8" fill="#f6c0c1" stroke="#141414" stroke-width="1.2" stroke-linejoin="round"/>
<polygon points="2372.6,834.9 2402.8,823.3 2494.5,901.3 2475.6,922.6" fill="#f6c0c1" stroke="#141414" stroke-width="1.2" stroke-linejoin="round"/>
<polygon points="2409.6,820.7 2439.9,809.1 2517.5,875.2 2498.7,896.5" fill="#f6c0c1" stroke="#141414" stroke-width="1.2" stroke-linejoin="round"/>
<polygon points="2446.7,806.5 2476.9,794.8 2540.6,849.1 2521.8,870.4" fill="#f6c0c1" stroke="#141414" stroke-width="1.2" stroke-linejoin="round"/>
<polygon points="2483.7,792.2 2514.0,780.6 2563.7,822.9 2544.9,844.3" fill="#f6c0c1" stroke="#141414" stroke-width="1.2" stroke-linejoin="round"/>
<polygon points="2520.8,778.0 2551.1,766.4 2586.8,796.8 2567.9,818.1" fill="#f6c0c1" stroke="#141414" stroke-width="1.2" stroke-linejoin="round"/>
<polygon points="2557.9,763.8 2588.1,752.2 2609.9,770.7 2591.0,792.0" fill="#f6c0c1" stroke="#141414" stroke-width="1.2" stroke-linejoin="round"/>
<polygon points="2594.9,749.5 2648.0,727.5 2614.1,765.9" fill="#f6c0c1" stroke="#141414" stroke-width="1.2" stroke-linejoin="round"/>
<polygon points="2143.3,922.8 2150.1,920.2 2150.1,928.6" fill="#ffffff" stroke="none"/><path d="M2143.3,922.8 L2150.1,928.6 L2150.1,920.2" fill="none" stroke="#141414" stroke-width="1.2" stroke-linejoin="round"/>
<polygon points="2180.2,908.5 2187.0,905.9 2187.0,914.3" fill="#ffffff" stroke="none"/><path d="M2180.2,908.5 L2187.0,914.3 L2187.0,905.9" fill="none" stroke="#141414" stroke-width="1.2" stroke-linejoin="round"/>
<polygon points="2217.2,894.2 2224.0,891.6 2224.0,900.0" fill="#ffffff" stroke="none"/><path d="M2217.2,894.2 L2224.0,900.0 L2224.0,891.6" fill="none" stroke="#141414" stroke-width="1.2" stroke-linejoin="round"/>
<polygon points="2254.2,879.9 2261.0,877.3 2261.0,885.7" fill="#ffffff" stroke="none"/><path d="M2254.2,879.9 L2261.0,885.7 L2261.0,877.3" fill="none" stroke="#141414" stroke-width="1.2" stroke-linejoin="round"/>
<polygon points="2291.2,865.6 2298.0,863.0 2298.0,871.4" fill="#ffffff" stroke="none"/><path d="M2291.2,865.6 L2298.0,871.4 L2298.0,863.0" fill="none" stroke="#141414" stroke-width="1.2" stroke-linejoin="round"/>
<polygon points="2328.1,851.3 2334.9,848.7 2334.9,857.0" fill="#ffffff" stroke="none"/><path d="M2328.1,851.3 L2334.9,857.0 L2334.9,848.7" fill="none" stroke="#141414" stroke-width="1.2" stroke-linejoin="round"/>
<polygon points="2365.1,837.0 2371.9,834.3 2371.9,842.7" fill="#ffffff" stroke="none"/><path d="M2365.1,837.0 L2371.9,842.7 L2371.9,834.3" fill="none" stroke="#141414" stroke-width="1.2" stroke-linejoin="round"/>
<polygon points="2402.1,822.7 2408.9,820.0 2408.9,828.4" fill="#ffffff" stroke="none"/><path d="M2402.1,822.7 L2408.9,828.4 L2408.9,820.0" fill="none" stroke="#141414" stroke-width="1.2" stroke-linejoin="round"/>
<polygon points="2439.0,808.4 2445.8,805.7 2445.8,814.1" fill="#ffffff" stroke="none"/><path d="M2439.0,808.4 L2445.8,814.1 L2445.8,805.7" fill="none" stroke="#141414" stroke-width="1.2" stroke-linejoin="round"/>
<polygon points="2476.0,794.1 2482.8,791.4 2482.8,799.8" fill="#ffffff" stroke="none"/><path d="M2476.0,794.1 L2482.8,799.8 L2482.8,791.4" fill="none" stroke="#141414" stroke-width="1.2" stroke-linejoin="round"/>
<polygon points="2513.0,779.8 2519.8,777.1 2519.8,785.5" fill="#ffffff" stroke="none"/><path d="M2513.0,779.8 L2519.8,785.5 L2519.8,777.1" fill="none" stroke="#141414" stroke-width="1.2" stroke-linejoin="round"/>
<polygon points="2549.9,765.4 2556.7,762.8 2556.7,771.2" fill="#ffffff" stroke="none"/><path d="M2549.9,765.4 L2556.7,771.2 L2556.7,762.8" fill="none" stroke="#141414" stroke-width="1.2" stroke-linejoin="round"/>
<polygon points="2586.9,751.1 2593.7,748.5 2593.7,756.9" fill="#ffffff" stroke="none"/><path d="M2586.9,751.1 L2593.7,756.9 L2593.7,748.5" fill="none" stroke="#141414" stroke-width="1.2" stroke-linejoin="round"/>
<polygon points="2314.1,1105.5 2332.9,1084.2 2332.9,1107.8 2314.1,1128.9" fill="#ef9898" stroke="#141414" stroke-width="1.2" stroke-linejoin="round"/>
<polygon points="2332.9,1084.2 2337.1,1079.4 2337.1,1103.0 2332.9,1107.8" fill="#d8878b" stroke="#141414" stroke-width="1.0" stroke-linejoin="round"/>
<polygon points="2333.5,1100.3 2336.7,1100.5 2336.7,1102.4 2333.5,1107.2" fill="#ffffff" stroke="none"/>
<polygon points="2337.1,1079.4 2356.0,1058.1 2356.0,1081.9 2337.1,1103.0" fill="#ef9898" stroke="#141414" stroke-width="1.2" stroke-linejoin="round"/>
<polygon points="2356.0,1058.1 2360.2,1053.3 2360.2,1077.1 2356.0,1081.9" fill="#d8878b" stroke="#141414" stroke-width="1.0" stroke-linejoin="round"/>
<polygon points="2356.6,1074.4 2359.8,1074.6 2359.8,1076.5 2356.6,1081.3" fill="#ffffff" stroke="none"/>
<polygon points="2360.2,1053.3 2379.1,1032.0 2379.1,1056.0 2360.2,1077.1" fill="#ef9898" stroke="#141414" stroke-width="1.2" stroke-linejoin="round"/>
<polygon points="2379.1,1032.0 2383.3,1027.2 2383.3,1051.2 2379.1,1056.0" fill="#d8878b" stroke="#141414" stroke-width="1.0" stroke-linejoin="round"/>
<polygon points="2379.7,1048.5 2382.9,1048.7 2382.9,1050.6 2379.7,1055.4" fill="#ffffff" stroke="none"/>
<polygon points="2383.3,1027.2 2402.1,1005.8 2402.1,1030.1 2383.3,1051.2" fill="#ef9898" stroke="#141414" stroke-width="1.2" stroke-linejoin="round"/>
<polygon points="2402.1,1005.8 2406.4,1001.0 2406.4,1025.3 2402.1,1030.1" fill="#d8878b" stroke="#141414" stroke-width="1.0" stroke-linejoin="round"/>
<polygon points="2402.7,1022.6 2406.0,1022.8 2406.0,1024.7 2402.7,1029.5" fill="#ffffff" stroke="none"/>
<polygon points="2406.4,1001.0 2425.2,979.7 2425.2,1004.2 2406.4,1025.3" fill="#ef9898" stroke="#141414" stroke-width="1.2" stroke-linejoin="round"/>
<polygon points="2425.2,979.7 2429.5,974.9 2429.5,999.4 2425.2,1004.2" fill="#d8878b" stroke="#141414" stroke-width="1.0" stroke-linejoin="round"/>
<polygon points="2425.8,996.7 2429.1,996.9 2429.1,998.8 2425.8,1003.6" fill="#ffffff" stroke="none"/>
<polygon points="2429.5,974.9 2448.3,953.6 2448.3,978.3 2429.5,999.4" fill="#ef9898" stroke="#141414" stroke-width="1.2" stroke-linejoin="round"/>
<polygon points="2448.3,953.6 2452.5,948.8 2452.5,973.5 2448.3,978.3" fill="#d8878b" stroke="#141414" stroke-width="1.0" stroke-linejoin="round"/>
<polygon points="2448.9,970.8 2452.1,971.0 2452.1,972.9 2448.9,977.7" fill="#ffffff" stroke="none"/>
<polygon points="2452.5,948.8 2471.4,927.4 2471.4,952.4 2452.5,973.5" fill="#ef9898" stroke="#141414" stroke-width="1.2" stroke-linejoin="round"/>
<polygon points="2471.4,927.4 2475.6,922.6 2475.6,947.6 2471.4,952.4" fill="#d8878b" stroke="#141414" stroke-width="1.0" stroke-linejoin="round"/>
<polygon points="2472.0,944.9 2475.2,945.1 2475.2,947.0 2472.0,951.8" fill="#ffffff" stroke="none"/>
<polygon points="2475.6,922.6 2494.5,901.3 2494.5,926.5 2475.6,947.6" fill="#ef9898" stroke="#141414" stroke-width="1.2" stroke-linejoin="round"/>
<polygon points="2494.5,901.3 2498.7,896.5 2498.7,921.7 2494.5,926.5" fill="#d8878b" stroke="#141414" stroke-width="1.0" stroke-linejoin="round"/>
<polygon points="2495.1,919.0 2498.3,919.2 2498.3,921.1 2495.1,925.9" fill="#ffffff" stroke="none"/>
<polygon points="2498.7,896.5 2517.5,875.2 2517.5,900.6 2498.7,921.7" fill="#ef9898" stroke="#141414" stroke-width="1.2" stroke-linejoin="round"/>
<polygon points="2517.5,875.2 2521.8,870.4 2521.8,895.8 2517.5,900.6" fill="#d8878b" stroke="#141414" stroke-width="1.0" stroke-linejoin="round"/>
<polygon points="2518.1,893.1 2521.4,893.3 2521.4,895.2 2518.1,900.0" fill="#ffffff" stroke="none"/>
<polygon points="2521.8,870.4 2540.6,849.1 2540.6,874.7 2521.8,895.8" fill="#ef9898" stroke="#141414" stroke-width="1.2" stroke-linejoin="round"/>
<polygon points="2540.6,849.1 2544.9,844.3 2544.9,869.9 2540.6,874.7" fill="#d8878b" stroke="#141414" stroke-width="1.0" stroke-linejoin="round"/>
<polygon points="2541.2,867.2 2544.5,867.4 2544.5,869.3 2541.2,874.1" fill="#ffffff" stroke="none"/>
<polygon points="2544.9,844.3 2563.7,822.9 2563.7,848.8 2544.9,869.9" fill="#ef9898" stroke="#141414" stroke-width="1.2" stroke-linejoin="round"/>
<polygon points="2563.7,822.9 2567.9,818.1 2567.9,844.0 2563.7,848.8" fill="#d8878b" stroke="#141414" stroke-width="1.0" stroke-linejoin="round"/>
<polygon points="2564.3,841.3 2567.5,841.5 2567.5,843.4 2564.3,848.2" fill="#ffffff" stroke="none"/>
<polygon points="2567.9,818.1 2586.8,796.8 2586.8,822.9 2567.9,844.0" fill="#ef9898" stroke="#141414" stroke-width="1.2" stroke-linejoin="round"/>
<polygon points="2586.8,796.8 2591.0,792.0 2591.0,818.1 2586.8,822.9" fill="#d8878b" stroke="#141414" stroke-width="1.0" stroke-linejoin="round"/>
<polygon points="2587.4,815.4 2590.6,815.6 2590.6,817.5 2587.4,822.3" fill="#ffffff" stroke="none"/>
<polygon points="2591.0,792.0 2609.9,770.7 2609.9,797.0 2591.0,818.1" fill="#ef9898" stroke="#141414" stroke-width="1.2" stroke-linejoin="round"/>
<polygon points="2609.9,770.7 2614.1,765.9 2614.1,792.2 2609.9,797.0" fill="#d8878b" stroke="#141414" stroke-width="1.0" stroke-linejoin="round"/>
<polygon points="2610.5,789.5 2613.7,789.7 2613.7,791.6 2610.5,796.4" fill="#ffffff" stroke="none"/>
<polygon points="2614.1,765.9 2648.0,727.5 2648.0,754.2 2614.1,792.2" fill="#ef9898" stroke="#141414" stroke-width="1.2" stroke-linejoin="round"/>
<g clip-path="url(#cT3)">
<polygon points="904.8,1903.6 1237.0,1523.0 1441.4,1697.5" fill="#586250" stroke="none"/>
<rect x="744" y="1284" width="859" height="859" filter="url(#dg1)" transform="rotate(-25 1173 1713)"/>
<rect x="744" y="1284" width="859" height="859" filter="url(#dg3)" transform="rotate(-25 1173 1713)"/>
<rect x="744" y="1284" width="859" height="859" filter="url(#dg2)" transform="rotate(-25 1173 1713)"/>
<rect x="744" y="1284" width="859" height="859" filter="url(#dg4)" transform="rotate(-25 1173 1713)"/>
<ellipse cx="1390" cy="1665" rx="80" ry="45" fill="url(#gdg1)" transform="rotate(-25 1390 1665)"/>
<ellipse cx="1235" cy="1580" rx="60" ry="50" fill="url(#gdg2)" transform="rotate(0 1235 1580)"/>
<ellipse cx="1250" cy="1690" rx="130" ry="60" fill="url(#gdg3)" transform="rotate(-35 1250 1690)"/>
<ellipse cx="1040" cy="1790" rx="90" ry="60" fill="url(#gdg4)" transform="rotate(-40 1040 1790)"/>
<ellipse cx="950" cy="1870" rx="60" ry="30" fill="url(#gdg5)" transform="rotate(-40 950 1870)"/>
</g>
<polygon points="904.8,1903.6 1237.0,1523.0 1441.4,1697.5" fill="none" stroke="#141414" stroke-width="1.4" stroke-linejoin="round"/>
<g clip-path="url(#cT4)">
<polygon points="1237.0,1523.0 1777.0,1315.5 1441.4,1697.5" fill="#e2e2de" stroke="none"/>
<rect x="1075" y="1074" width="864" height="864" filter="url(#rc1)" transform="rotate(-35 1507 1506)"/>
<line x1="1331" y1="1566" x2="1487" y2="1465" stroke="#34a86a" stroke-width="4.5" stroke-linecap="round" opacity="0.85" filter="url(#blur2)"/>
<line x1="1341" y1="1592" x2="1412" y2="1520" stroke="#f08aa2" stroke-width="13" stroke-linecap="round" opacity="0.55" filter="url(#blur5)"/>
<line x1="1352" y1="1598" x2="1425" y2="1528" stroke="#ee7c98" stroke-width="8" stroke-linecap="round" opacity="0.55" filter="url(#blur5)"/>
<line x1="1370" y1="1590" x2="1430" y2="1535" stroke="#f4a0b4" stroke-width="6" stroke-linecap="round" opacity="0.5" filter="url(#blur3)"/>
<line x1="1513" y1="1475" x2="1525" y2="1513" stroke="#3a4250" stroke-width="10" stroke-linecap="round" opacity="0.75" filter="url(#blur3)"/>
<line x1="1520" y1="1480" x2="1532" y2="1505" stroke="#505868" stroke-width="6" stroke-linecap="round" opacity="0.6" filter="url(#blur3)"/>
<line x1="1536" y1="1488" x2="1567" y2="1456" stroke="#e0506e" stroke-width="5" stroke-linecap="round" opacity="0.7" filter="url(#blur3)"/>
<line x1="1548" y1="1490" x2="1570" y2="1470" stroke="#e86a84" stroke-width="4" stroke-linecap="round" opacity="0.6" filter="url(#blur3)"/>
<line x1="1584" y1="1410" x2="1587" y2="1423" stroke="#e0506a" stroke-width="4" stroke-linecap="round" opacity="0.8" filter="url(#blur2)"/>
<line x1="1603" y1="1488" x2="1642" y2="1469" stroke="#4a9ad0" stroke-width="12" stroke-linecap="round" opacity="0.6" filter="url(#blur5)"/>
<line x1="1645" y1="1443" x2="1684" y2="1411" stroke="#52a2d6" stroke-width="9" stroke-linecap="round" opacity="0.55" filter="url(#blur5)"/>
<line x1="1497" y1="1566" x2="1515" y2="1577" stroke="#3b8fca" stroke-width="10" stroke-linecap="round" opacity="0.75" filter="url(#blur3)"/>
<line x1="1406" y1="1650" x2="1490" y2="1598" stroke="#b070c8" stroke-width="12" stroke-linecap="round" opacity="0.55" filter="url(#blur5)"/>
<line x1="1425" y1="1652" x2="1480" y2="1615" stroke="#a862c4" stroke-width="7" stroke-linecap="round" opacity="0.5" filter="url(#blur5)"/>
<line x1="1655" y1="1365" x2="1671" y2="1385" stroke="#b47ad2" stroke-width="8" stroke-linecap="round" opacity="0.55" filter="url(#blur5)"/>
<line x1="1385" y1="1640" x2="1422" y2="1610" stroke="#e6cf6a" stroke-width="4" stroke-linecap="round" opacity="0.6" filter="url(#blur2)"/>
<line x1="1432" y1="1452" x2="1451" y2="1456" stroke="#efe28a" stroke-width="7" stroke-linecap="round" opacity="0.7" filter="url(#blur3)"/>
<line x1="1600" y1="1478" x2="1630" y2="1470" stroke="#e8d878" stroke-width="4" stroke-linecap="round" opacity="0.55" filter="url(#blur2)"/>
<line x1="1302" y1="1568" x2="1365" y2="1537" stroke="#ffffff" stroke-width="3.5" stroke-linecap="round" opacity="0.9" filter="url(#blur2)"/>
<line x1="1447" y1="1540" x2="1497" y2="1520" stroke="#ffffff" stroke-width="3" stroke-linecap="round" opacity="0.9" filter="url(#blur2)"/>
<line x1="1606" y1="1452" x2="1645" y2="1455" stroke="#ffffff" stroke-width="3.5" stroke-linecap="round" opacity="0.9" filter="url(#blur2)"/>
<line x1="1390" y1="1487" x2="1400" y2="1515" stroke="#ffffff" stroke-width="4" stroke-linecap="round" opacity="0.9" filter="url(#blur2)"/>
<line x1="1710" y1="1357" x2="1720" y2="1362" stroke="#ffffff" stroke-width="4" stroke-linecap="round" opacity="0.9" filter="url(#blur2)"/>
<line x1="1440" y1="1705" x2="1500" y2="1680" stroke="#ffffff" stroke-width="3" stroke-linecap="round" opacity="0.8" filter="url(#blur2)"/></g>
<polygon points="1237.0,1523.0 1777.0,1315.5 1441.4,1697.5" fill="none" stroke="#141414" stroke-width="1.4" stroke-linejoin="round"/>
<polygon points="904.8,1952.7 1441.4,1746.6 1441.4,1768.8 904.8,1974.9" fill="#e6c7a0" stroke="#141414" stroke-width="1.1" stroke-linejoin="round"/>
<polygon points="904.8,1997.2 1441.4,1791.1 1441.4,1813.3 904.8,2019.4" fill="#e6c7a0" stroke="#141414" stroke-width="1.1" stroke-linejoin="round"/>
<polygon points="904.8,2041.7 1441.4,1835.6 1441.4,1857.8 904.8,2063.9" fill="#e6c7a0" stroke="#141414" stroke-width="1.1" stroke-linejoin="round"/>
<polygon points="904.8,1952.7 961.1,1931.1 961.1,1953.3 904.8,1974.9" fill="#ffffff" stroke="#141414" stroke-width="1.1" stroke-linejoin="round"/>
<polygon points="1042.6,1899.8 1042.6,1922.0 1024.6,1906.7" fill="#e7e7e7" stroke="#141414" stroke-width="1.0" stroke-linejoin="round"/>
<polygon points="1042.6,1899.8 1072.3,1888.4 1072.3,1910.6 1042.6,1922.0" fill="#ffffff" stroke="#141414" stroke-width="1.1" stroke-linejoin="round"/>
<polygon points="1228.3,1828.4 1228.3,1850.6 1210.3,1835.4" fill="#e7e7e7" stroke="#141414" stroke-width="1.0" stroke-linejoin="round"/>
<polygon points="1228.3,1828.4 1258.3,1816.9 1258.3,1839.1 1228.3,1850.6" fill="#ffffff" stroke="#141414" stroke-width="1.1" stroke-linejoin="round"/>
<polygon points="1414.3,1757.0 1414.3,1779.2 1396.3,1763.9" fill="#e7e7e7" stroke="#141414" stroke-width="1.0" stroke-linejoin="round"/>
<polygon points="1414.3,1757.0 1441.4,1746.6 1441.4,1768.8 1414.3,1779.2" fill="#ffffff" stroke="#141414" stroke-width="1.1" stroke-linejoin="round"/>
<polygon points="904.8,1997.2 961.1,1975.6 961.1,1997.8 904.8,2019.4" fill="#ffffff" stroke="#141414" stroke-width="1.1" stroke-linejoin="round"/>
<polygon points="1042.6,1944.3 1042.6,1966.5 1024.6,1951.2" fill="#e7e7e7" stroke="#141414" stroke-width="1.0" stroke-linejoin="round"/>
<polygon points="1042.6,1944.3 1072.3,1932.9 1072.3,1955.1 1042.6,1966.5" fill="#ffffff" stroke="#141414" stroke-width="1.1" stroke-linejoin="round"/>
<polygon points="1228.3,1872.9 1228.3,1895.1 1210.3,1879.9" fill="#e7e7e7" stroke="#141414" stroke-width="1.0" stroke-linejoin="round"/>
<polygon points="1228.3,1872.9 1258.3,1861.4 1258.3,1883.6 1228.3,1895.1" fill="#ffffff" stroke="#141414" stroke-width="1.1" stroke-linejoin="round"/>
<polygon points="1414.3,1801.5 1414.3,1823.7 1396.3,1808.4" fill="#e7e7e7" stroke="#141414" stroke-width="1.0" stroke-linejoin="round"/>
<polygon points="1414.3,1801.5 1441.4,1791.1 1441.4,1813.3 1414.3,1823.7" fill="#ffffff" stroke="#141414" stroke-width="1.1" stroke-linejoin="round"/>
<polygon points="904.8,2041.7 961.1,2020.1 961.1,2042.3 904.8,2063.9" fill="#ffffff" stroke="#141414" stroke-width="1.1" stroke-linejoin="round"/>
<polygon points="1042.6,1988.8 1042.6,2011.0 1024.6,1995.7" fill="#e7e7e7" stroke="#141414" stroke-width="1.0" stroke-linejoin="round"/>
<polygon points="1042.6,1988.8 1072.3,1977.4 1072.3,1999.6 1042.6,2011.0" fill="#ffffff" stroke="#141414" stroke-width="1.1" stroke-linejoin="round"/>
<polygon points="1228.3,1917.4 1228.3,1939.6 1210.3,1924.4" fill="#e7e7e7" stroke="#141414" stroke-width="1.0" stroke-linejoin="round"/>
<polygon points="1228.3,1917.4 1258.3,1905.9 1258.3,1928.1 1228.3,1939.6" fill="#ffffff" stroke="#141414" stroke-width="1.1" stroke-linejoin="round"/>
<polygon points="1414.3,1846.0 1414.3,1868.2 1396.3,1852.9" fill="#e7e7e7" stroke="#141414" stroke-width="1.0" stroke-linejoin="round"/>
<polygon points="1414.3,1846.0 1441.4,1835.6 1441.4,1857.8 1414.3,1868.2" fill="#ffffff" stroke="#141414" stroke-width="1.1" stroke-linejoin="round"/>
<polygon points="904.8,2087.0 961.1,2065.4 961.1,2087.0 904.8,2108.6" fill="#ffffff" stroke="#141414" stroke-width="1.1" stroke-linejoin="round"/>
<polygon points="1042.6,2034.1 1042.6,2055.7 1025.1,2040.8" fill="#e7e7e7" stroke="#141414" stroke-width="1.0" stroke-linejoin="round"/>
<polygon points="1042.6,2034.1 1072.3,2022.7 1072.3,2044.3 1042.6,2055.7" fill="#ffffff" stroke="#141414" stroke-width="1.1" stroke-linejoin="round"/>
<polygon points="1228.3,1962.7 1228.3,1984.3 1210.8,1969.5" fill="#e7e7e7" stroke="#141414" stroke-width="1.0" stroke-linejoin="round"/>
<polygon points="1228.3,1962.7 1258.3,1951.2 1258.3,1972.8 1228.3,1984.3" fill="#ffffff" stroke="#141414" stroke-width="1.1" stroke-linejoin="round"/>
<polygon points="1414.3,1891.3 1414.3,1912.9 1396.8,1898.0" fill="#e7e7e7" stroke="#141414" stroke-width="1.0" stroke-linejoin="round"/>
<polygon points="1414.3,1891.3 1441.4,1880.9 1441.4,1902.5 1414.3,1912.9" fill="#ffffff" stroke="#141414" stroke-width="1.1" stroke-linejoin="round"/>
<polygon points="904.8,1930.4 1441.4,1724.3 1441.4,1746.6 904.8,1952.7" fill="url(#wood)" stroke="#141414" stroke-width="1.3" stroke-linejoin="round"/>
<polygon points="904.8,1974.9 1441.4,1768.8 1441.4,1791.1 904.8,1997.2" fill="url(#wood)" stroke="#141414" stroke-width="1.3" stroke-linejoin="round"/>
<polygon points="904.8,2019.4 1441.4,1813.3 1441.4,1835.6 904.8,2041.7" fill="url(#wood)" stroke="#141414" stroke-width="1.3" stroke-linejoin="round"/>
<polygon points="904.8,2063.9 1441.4,1857.8 1441.4,1880.1 904.8,2086.2" fill="url(#wood)" stroke="#141414" stroke-width="1.3" stroke-linejoin="round"/>
<polygon points="904.8,1914.6 1441.4,1708.5 1441.4,1724.3 904.8,1930.4" fill="#ffffff" stroke="#141414" stroke-width="1.1" stroke-linejoin="round"/>
<polygon points="961.1,1890.0 967.9,1887.4 967.9,1906.2 961.1,1908.8" fill="#e4e4e4" stroke="#141414" stroke-width="0.9" stroke-linejoin="round"/>
<polygon points="961.7,1902.2 967.6,1904.4 967.6,1905.7 961.7,1907.9" fill="#e3c9a6" stroke="none"/>
<polygon points="998.1,1875.8 1004.9,1873.2 1004.9,1892.0 998.1,1894.6" fill="#e4e4e4" stroke="#141414" stroke-width="0.9" stroke-linejoin="round"/>
<polygon points="998.7,1888.0 1004.6,1890.2 1004.6,1891.5 998.7,1893.7" fill="#e3c9a6" stroke="none"/>
<polygon points="1035.1,1861.6 1041.9,1858.9 1041.9,1877.7 1035.1,1880.4" fill="#e4e4e4" stroke="#141414" stroke-width="0.9" stroke-linejoin="round"/>
<polygon points="1035.7,1873.8 1041.6,1876.0 1041.6,1877.3 1035.7,1879.5" fill="#e3c9a6" stroke="none"/>
<polygon points="1072.1,1847.3 1078.9,1844.7 1078.9,1863.5 1072.1,1866.1" fill="#e4e4e4" stroke="#141414" stroke-width="0.9" stroke-linejoin="round"/>
<polygon points="1072.7,1859.6 1078.6,1861.8 1078.6,1863.0 1072.7,1865.3" fill="#e3c9a6" stroke="none"/>
<polygon points="1109.1,1833.1 1115.9,1830.5 1115.9,1849.3 1109.1,1851.9" fill="#e4e4e4" stroke="#141414" stroke-width="0.9" stroke-linejoin="round"/>
<polygon points="1109.7,1845.4 1115.6,1847.5 1115.6,1848.8 1109.7,1851.1" fill="#e3c9a6" stroke="none"/>
<polygon points="1146.1,1818.9 1152.9,1816.3 1152.9,1835.1 1146.1,1837.7" fill="#e4e4e4" stroke="#141414" stroke-width="0.9" stroke-linejoin="round"/>
<polygon points="1146.7,1831.2 1152.6,1833.3 1152.6,1834.6 1146.7,1836.9" fill="#e3c9a6" stroke="none"/>
<polygon points="1183.1,1804.7 1189.9,1802.1 1189.9,1820.9 1183.1,1823.5" fill="#e4e4e4" stroke="#141414" stroke-width="0.9" stroke-linejoin="round"/>
<polygon points="1183.7,1817.0 1189.6,1819.1 1189.6,1820.4 1183.7,1822.7" fill="#e3c9a6" stroke="none"/>
<polygon points="1220.1,1790.5 1226.9,1787.9 1226.9,1806.7 1220.1,1809.3" fill="#e4e4e4" stroke="#141414" stroke-width="0.9" stroke-linejoin="round"/>
<polygon points="1220.7,1802.7 1226.6,1804.9 1226.6,1806.2 1220.7,1808.5" fill="#e3c9a6" stroke="none"/>
<polygon points="1257.1,1776.3 1263.9,1773.7 1263.9,1792.5 1257.1,1795.1" fill="#e4e4e4" stroke="#141414" stroke-width="0.9" stroke-linejoin="round"/>
<polygon points="1257.7,1788.5 1263.6,1790.7 1263.6,1792.0 1257.7,1794.3" fill="#e3c9a6" stroke="none"/>
<polygon points="1294.1,1762.1 1300.9,1759.5 1300.9,1778.3 1294.1,1780.9" fill="#e4e4e4" stroke="#141414" stroke-width="0.9" stroke-linejoin="round"/>
<polygon points="1294.7,1774.3 1300.6,1776.5 1300.6,1777.8 1294.7,1780.0" fill="#e3c9a6" stroke="none"/>
<polygon points="1331.1,1747.9 1337.9,1745.3 1337.9,1764.1 1331.1,1766.7" fill="#e4e4e4" stroke="#141414" stroke-width="0.9" stroke-linejoin="round"/>
<polygon points="1331.7,1760.1 1337.6,1762.3 1337.6,1763.6 1331.7,1765.8" fill="#e3c9a6" stroke="none"/>
<polygon points="1368.1,1733.7 1374.9,1731.0 1374.9,1749.8 1368.1,1752.5" fill="#e4e4e4" stroke="#141414" stroke-width="0.9" stroke-linejoin="round"/>
<polygon points="1368.7,1745.9 1374.6,1748.1 1374.6,1749.4 1368.7,1751.6" fill="#e3c9a6" stroke="none"/>
<polygon points="1405.1,1719.4 1411.9,1716.8 1411.9,1735.6 1405.1,1738.2" fill="#e4e4e4" stroke="#141414" stroke-width="0.9" stroke-linejoin="round"/>
<polygon points="1405.7,1731.7 1411.6,1733.8 1411.6,1735.1 1405.7,1737.4" fill="#e3c9a6" stroke="none"/>
<polygon points="904.8,1903.6 1441.4,1697.5 1441.4,1708.5 904.8,1914.6" fill="#66735f" stroke="#141414" stroke-width="1.3" stroke-linejoin="round"/>
<polygon points="1441.4,1744.5 1777.0,1369.3 1777.0,1391.1 1441.4,1766.3" fill="#e6c7a0" stroke="#141414" stroke-width="1.1" stroke-linejoin="round"/>
<polygon points="1441.4,1788.7 1777.0,1413.5 1777.0,1435.6 1441.4,1810.8" fill="#e6c7a0" stroke="#141414" stroke-width="1.1" stroke-linejoin="round"/>
<polygon points="1441.4,1833.2 1777.0,1458.0 1777.0,1480.3 1441.4,1855.5" fill="#e6c7a0" stroke="#141414" stroke-width="1.1" stroke-linejoin="round"/>
<polygon points="1441.4,1744.5 1461.8,1721.7 1461.8,1743.5 1441.4,1766.3" fill="#ef9898" stroke="#141414" stroke-width="1.1" stroke-linejoin="round"/>
<polygon points="1558.7,1613.4 1558.7,1635.2 1547.6,1625.8" fill="#d8878b" stroke="#141414" stroke-width="1.0" stroke-linejoin="round"/>
<polygon points="1558.7,1613.4 1577.4,1592.5 1577.4,1614.3 1558.7,1635.2" fill="#ef9898" stroke="#141414" stroke-width="1.1" stroke-linejoin="round"/>
<polygon points="1674.5,1483.9 1674.5,1505.7 1663.4,1496.3" fill="#d8878b" stroke="#141414" stroke-width="1.0" stroke-linejoin="round"/>
<polygon points="1674.5,1483.9 1692.8,1463.4 1692.8,1485.2 1674.5,1505.7" fill="#ef9898" stroke="#141414" stroke-width="1.1" stroke-linejoin="round"/>
<polygon points="1744.1,1406.1 1744.1,1427.9 1733.0,1418.5" fill="#d8878b" stroke="#141414" stroke-width="1.0" stroke-linejoin="round"/>
<polygon points="1744.1,1406.1 1777.0,1369.3 1777.0,1391.1 1744.1,1427.9" fill="#ef9898" stroke="#141414" stroke-width="1.1" stroke-linejoin="round"/>
<polygon points="1441.4,1788.7 1461.8,1765.9 1461.8,1788.0 1441.4,1810.8" fill="#ef9898" stroke="#141414" stroke-width="1.1" stroke-linejoin="round"/>
<polygon points="1558.7,1657.6 1558.7,1679.7 1547.5,1670.1" fill="#d8878b" stroke="#141414" stroke-width="1.0" stroke-linejoin="round"/>
<polygon points="1558.7,1657.6 1577.4,1636.7 1577.4,1658.8 1558.7,1679.7" fill="#ef9898" stroke="#141414" stroke-width="1.1" stroke-linejoin="round"/>
<polygon points="1674.5,1528.1 1674.5,1550.2 1663.3,1540.7" fill="#d8878b" stroke="#141414" stroke-width="1.0" stroke-linejoin="round"/>
<polygon points="1674.5,1528.1 1692.8,1507.6 1692.8,1529.7 1674.5,1550.2" fill="#ef9898" stroke="#141414" stroke-width="1.1" stroke-linejoin="round"/>
<polygon points="1744.1,1450.3 1744.1,1472.4 1732.9,1462.8" fill="#d8878b" stroke="#141414" stroke-width="1.0" stroke-linejoin="round"/>
<polygon points="1744.1,1450.3 1777.0,1413.5 1777.0,1435.6 1744.1,1472.4" fill="#ef9898" stroke="#141414" stroke-width="1.1" stroke-linejoin="round"/>
<polygon points="1441.4,1833.2 1461.8,1810.4 1461.8,1832.7 1441.4,1855.5" fill="#ef9898" stroke="#141414" stroke-width="1.1" stroke-linejoin="round"/>
<polygon points="1558.7,1702.1 1558.7,1724.4 1547.4,1714.7" fill="#d8878b" stroke="#141414" stroke-width="1.0" stroke-linejoin="round"/>
<polygon points="1558.7,1702.1 1577.4,1681.2 1577.4,1703.5 1558.7,1724.4" fill="#ef9898" stroke="#141414" stroke-width="1.1" stroke-linejoin="round"/>
<polygon points="1674.5,1572.6 1674.5,1594.9 1663.2,1585.3" fill="#d8878b" stroke="#141414" stroke-width="1.0" stroke-linejoin="round"/>
<polygon points="1674.5,1572.6 1692.8,1552.1 1692.8,1574.4 1674.5,1594.9" fill="#ef9898" stroke="#141414" stroke-width="1.1" stroke-linejoin="round"/>
<polygon points="1744.1,1494.8 1744.1,1517.1 1732.8,1507.5" fill="#d8878b" stroke="#141414" stroke-width="1.0" stroke-linejoin="round"/>
<polygon points="1744.1,1494.8 1777.0,1458.0 1777.0,1480.3 1744.1,1517.1" fill="#ef9898" stroke="#141414" stroke-width="1.1" stroke-linejoin="round"/>
<polygon points="1441.4,1877.9 1461.8,1855.1 1461.8,1877.2 1441.4,1900.0" fill="#ef9898" stroke="#141414" stroke-width="1.1" stroke-linejoin="round"/>
<polygon points="1558.7,1746.8 1558.7,1768.9 1547.5,1759.3" fill="#d8878b" stroke="#141414" stroke-width="1.0" stroke-linejoin="round"/>
<polygon points="1558.7,1746.8 1577.4,1725.9 1577.4,1748.0 1558.7,1768.9" fill="#ef9898" stroke="#141414" stroke-width="1.1" stroke-linejoin="round"/>
<polygon points="1674.5,1617.3 1674.5,1639.4 1663.3,1629.9" fill="#d8878b" stroke="#141414" stroke-width="1.0" stroke-linejoin="round"/>
<polygon points="1674.5,1617.3 1692.8,1596.8 1692.8,1618.9 1674.5,1639.4" fill="#ef9898" stroke="#141414" stroke-width="1.1" stroke-linejoin="round"/>
<polygon points="1744.1,1539.5 1744.1,1561.6 1732.9,1552.0" fill="#d8878b" stroke="#141414" stroke-width="1.0" stroke-linejoin="round"/>
<polygon points="1744.1,1539.5 1777.0,1502.7 1777.0,1524.8 1744.1,1561.6" fill="#ef9898" stroke="#141414" stroke-width="1.1" stroke-linejoin="round"/>
<polygon points="1441.4,1722.1 1777.0,1346.9 1777.0,1369.3 1441.4,1744.5" fill="url(#woodR)" stroke="#141414" stroke-width="1.3" stroke-linejoin="round"/>
<polygon points="1441.4,1766.3 1777.0,1391.1 1777.0,1413.5 1441.4,1788.7" fill="url(#woodR)" stroke="#141414" stroke-width="1.3" stroke-linejoin="round"/>
<polygon points="1441.4,1810.8 1777.0,1435.6 1777.0,1458.0 1441.4,1833.2" fill="url(#woodR)" stroke="#141414" stroke-width="1.3" stroke-linejoin="round"/>
<polygon points="1441.4,1855.5 1777.0,1480.3 1777.0,1502.7 1441.4,1877.9" fill="url(#woodR)" stroke="#141414" stroke-width="1.3" stroke-linejoin="round"/>
<polygon points="1441.4,1702.5 1777.0,1327.3 1777.0,1346.9 1441.4,1722.1" fill="#ef9898" stroke="#141414" stroke-width="1.1" stroke-linejoin="round"/>
<polygon points="1461.4,1677.1 1465.4,1672.7 1465.4,1695.3 1461.4,1699.7" fill="#d8878b" stroke="#141414" stroke-width="0.9" stroke-linejoin="round"/>
<polygon points="1462.0,1691.2 1465.1,1693.3 1465.1,1695.0 1462.0,1698.5" fill="#ffffff" stroke="none"/>
<polygon points="1484.6,1651.2 1488.6,1646.7 1488.6,1669.3 1484.6,1673.8" fill="#d8878b" stroke="#141414" stroke-width="0.9" stroke-linejoin="round"/>
<polygon points="1485.2,1665.3 1488.3,1667.3 1488.3,1669.1 1485.2,1672.5" fill="#ffffff" stroke="none"/>
<polygon points="1507.8,1625.3 1511.8,1620.8 1511.8,1643.4 1507.8,1647.9" fill="#d8878b" stroke="#141414" stroke-width="0.9" stroke-linejoin="round"/>
<polygon points="1508.4,1639.4 1511.5,1641.4 1511.5,1643.1 1508.4,1646.6" fill="#ffffff" stroke="none"/>
<polygon points="1531.0,1599.3 1535.0,1594.9 1535.0,1617.5 1531.0,1621.9" fill="#d8878b" stroke="#141414" stroke-width="0.9" stroke-linejoin="round"/>
<polygon points="1531.6,1613.4 1534.7,1615.4 1534.7,1617.2 1531.6,1620.7" fill="#ffffff" stroke="none"/>
<polygon points="1554.2,1573.4 1558.2,1568.9 1558.2,1591.5 1554.2,1596.0" fill="#d8878b" stroke="#141414" stroke-width="0.9" stroke-linejoin="round"/>
<polygon points="1554.8,1587.5 1557.9,1589.5 1557.9,1591.3 1554.8,1594.7" fill="#ffffff" stroke="none"/>
<polygon points="1577.4,1547.5 1581.4,1543.0 1581.4,1565.6 1577.4,1570.1" fill="#d8878b" stroke="#141414" stroke-width="0.9" stroke-linejoin="round"/>
<polygon points="1578.0,1561.5 1581.1,1563.6 1581.1,1565.3 1578.0,1568.8" fill="#ffffff" stroke="none"/>
<polygon points="1600.6,1521.5 1604.6,1517.0 1604.6,1539.6 1600.6,1544.1" fill="#d8878b" stroke="#141414" stroke-width="0.9" stroke-linejoin="round"/>
<polygon points="1601.2,1535.6 1604.3,1537.6 1604.3,1539.4 1601.2,1542.8" fill="#ffffff" stroke="none"/>
<polygon points="1623.8,1495.6 1627.8,1491.1 1627.8,1513.7 1623.8,1518.2" fill="#d8878b" stroke="#141414" stroke-width="0.9" stroke-linejoin="round"/>
<polygon points="1624.4,1509.7 1627.5,1511.7 1627.5,1513.4 1624.4,1516.9" fill="#ffffff" stroke="none"/>
<polygon points="1647.0,1469.6 1651.0,1465.2 1651.0,1487.8 1647.0,1492.2" fill="#d8878b" stroke="#141414" stroke-width="0.9" stroke-linejoin="round"/>
<polygon points="1647.6,1483.7 1650.7,1485.8 1650.7,1487.5 1647.6,1491.0" fill="#ffffff" stroke="none"/>
<polygon points="1670.2,1443.7 1674.2,1439.2 1674.2,1461.8 1670.2,1466.3" fill="#d8878b" stroke="#141414" stroke-width="0.9" stroke-linejoin="round"/>
<polygon points="1670.8,1457.8 1673.9,1459.8 1673.9,1461.6 1670.8,1465.0" fill="#ffffff" stroke="none"/>
<polygon points="1693.4,1417.8 1697.4,1413.3 1697.4,1435.9 1693.4,1440.4" fill="#d8878b" stroke="#141414" stroke-width="0.9" stroke-linejoin="round"/>
<polygon points="1694.0,1431.9 1697.1,1433.9 1697.1,1435.6 1694.0,1439.1" fill="#ffffff" stroke="none"/>
<polygon points="1716.6,1391.8 1720.6,1387.4 1720.6,1410.0 1716.6,1414.4" fill="#d8878b" stroke="#141414" stroke-width="0.9" stroke-linejoin="round"/>
<polygon points="1717.2,1405.9 1720.3,1407.9 1720.3,1409.7 1717.2,1413.2" fill="#ffffff" stroke="none"/>
<polygon points="1739.8,1365.9 1743.8,1361.4 1743.8,1384.0 1739.8,1388.5" fill="#d8878b" stroke="#141414" stroke-width="0.9" stroke-linejoin="round"/>
<polygon points="1740.4,1380.0 1743.5,1382.0 1743.5,1383.8 1740.4,1387.2" fill="#ffffff" stroke="none"/>
<polygon points="1441.4,1697.5 1777.0,1315.5 1777.0,1328.3 1441.4,1702.5" fill="#d2d6d0" stroke="#141414" stroke-width="1.3" stroke-linejoin="round"/>
<path d="M1919.5,1006.1 L1924.3,967.3 L1914.4,966.2 L1911.0,959.5 L1907.7,965.1 L1903.3,963.9 L1899.5,970.6 L1894.4,968.4 L1892.9,963.9 L1892.2,956.2 L1890.0,947.3 L1891.1,940.7 L1895.5,937.3 L1898.8,932.9 L1893.7,927.4 L1895.5,921.8 L1891.1,917.4 L1892.2,911.8 L1898.8,909.0 L1902.2,904.1 L1902.2,897.4 L1897.3,893.0 L1902.2,888.6 L1909.9,885.2 L1912.8,879.7 L1912.8,873.0 L1915.9,868.2 L1915.5,855.3 L1921.0,840.9 L1933.2,823.1 L1941.0,811.0 L1946.5,792.1 L1956.5,774.4 L1970.9,761.7 L1984.2,755.1 L1994.2,754.0 L2006.4,756.0 L2017.5,764.4 L2038.5,788.8 L2051.2,817.6 L2054.1,840.9 L2052.5,855.3 L2045.2,865.3 L2039.2,868.2 L2041.9,883.7 L2060.0,894.1 L2065.2,894.0 L2067.4,896.3 L2074.8,899.9 L2086.6,903.6 L2095.5,913.2 L2099.2,919.9 L2104.3,928.8 L2107.3,934.7 L2108.8,936.9 L2122.1,950.9 L2142.8,967.2 L2150.1,971.6 L2193.0,1007.1 L2201.9,1013.0 L2213.7,1024.1 L2219.6,1037.4 L2225.5,1033.7 L2235.9,1028.5 L2240.3,1032.9 L2218.1,1100.2 L2218.2,1100.9 L2250.5,1103.4 L2276.3,1115.1 L2286.7,1131.9 L2284.1,1168.1 L2276.3,1204.3 L2263.4,1258.6 L2254.4,1292.2 L2233.7,1292.2 L2227.2,1310.3 L2225.9,1328.4 L2232.4,1343.9 L2247.9,1360.7 L2276.3,1373.7 L2300.9,1378.8 L2304.8,1387.9 L2297.0,1398.2 L2241.4,1399.5 L2207.8,1391.8 L2206.5,1398.2 L2169.0,1398.2 L2167.7,1362.0 L2172.9,1346.5 L2184.5,1328.4 L2193.6,1297.4 L2201.3,1261.2 L2207.8,1217.2 L2216.9,1178.4 L2174.2,1186.2 L2157.4,1191.4 L2170.3,1209.5 L2178.1,1218.5 L2176.8,1226.3 L2167.7,1232.7 L2141.9,1215.9 L2118.6,1204.3 L2097.9,1188.8 L1947.9,1188.8 L1923.4,1172.0 L1928.5,1144.8 L1936.3,1129.3 L1935.0,1109.9 L1923.4,1117.7 L1914.3,1100.9 L1902.7,1085.3 L1891.0,1069.8 L1913.0,1046.5 L1915.6,1024.6 L1919.0,1006.2 Z M2158.3,1040.3 L2181.2,1031.5 L2180.0,1034.9 L2167.9,1048.5 Z M2129.5,1059.5 L2140.5,1064.0 L2142.0,1076.5 L2116.2,1089.8 L2115.4,1086.1 L2135.4,1072.8 Z M2060.4,1068.5 L2066.9,1067.8 L2074.6,1096.2 L2061.7,1080.2 Z" fill="#ffffff" stroke="#3a3434" stroke-width="0.9" stroke-linejoin="round" fill-rule="evenodd"/>
<path d="M2624.8,1148.3 L2630.0,1129.3 L2643.8,1105.2 L2635.2,1073.3 L2612.8,1037.9 L2603.3,1025.0 L2597.2,1025.9 L2590.3,1016.9 L2605.9,1015.9 L2601.6,1010.3 L2602.4,984.5 L2592.1,958.6 L2580.0,937.1 L2562.8,929.3 L2555.9,927.6 L2535.2,930.2 L2528.3,925.9 L2521.4,924.1 L2505.0,936.2 L2504.1,956.9 L2493.8,970.7 L2492.9,986.2 L2506.7,1003.4 L2516.2,1017.2 L2522.2,1027.6 L2523.1,1032.8 L2532.6,1039.7 L2519.7,1050.0 L2512.4,1062.2 L2501.3,1077.0 L2485.0,1097.6 L2471.0,1113.9 L2470.3,1119.1 L2465.8,1119.8 L2459.9,1125.0 L2456.2,1130.9 L2454.4,1139.8 L2456.2,1148.6 L2457.0,1153.8 L2462.1,1154.2 L2462.9,1151.6 L2471.7,1149.4 L2480.6,1145.0 L2486.5,1145.7 L2493.2,1143.5 L2496.1,1148.6 L2505.0,1147.2 L2508.0,1138.3 L2509.4,1126.8 L2506.5,1146.5 L2505.4,1173.1 L2504.3,1232.9 L2519.8,1301.6 L2530.9,1321.6 L2546.4,1326.0 L2546.4,1339.3 L2550.8,1342.6 L2535.3,1344.8 L2517.6,1350.4 L2508.7,1354.8 L2508.7,1361.4 L2518.7,1364.8 L2530.9,1364.8 L2548.6,1362.5 L2548.6,1373.6 L2543.0,1381.4 L2526.4,1394.7 L2513.1,1404.7 L2510.9,1410.2 L2518.7,1414.6 L2545.3,1412.4 L2548.6,1410.2 L2573.0,1408.0 L2580.7,1404.7 L2584.0,1399.1 L2582.9,1385.8 L2587.4,1361.4 L2590.7,1354.8 L2596.2,1355.9 L2600.7,1344.8 L2604.0,1328.2 L2626.1,1166.4 Z" fill="#ffffff" stroke="#3a3434" stroke-width="0.9" stroke-linejoin="round" fill-rule="evenodd"/><path d="M2538.6,1237.3 L2545.3,1269.5 L2543.0,1281.7 L2553.0,1341.5 L2555.2,1351.5" fill="none" stroke="#3a3434" stroke-width="0.9" stroke-linejoin="round"/>
<text x="737.4" y="1048.5" font-family="Liberation Sans, sans-serif" font-size="31.5" fill="#231815" textLength="303.6" lengthAdjust="spacingAndGlyphs">Tyvek Recycled Plastic</text>
<text x="1296.3" y="1048.2" font-family="Liberation Sans, sans-serif" font-size="31.5" fill="#231815" textLength="355.2" lengthAdjust="spacingAndGlyphs">Color Stained Waste Wood</text>
<text x="1804.7" y="1621.9" font-family="Liberation Sans, sans-serif" font-size="31.5" fill="#231815" textLength="163.9" lengthAdjust="spacingAndGlyphs">Waste Wood</text>
<text x="1804.7" y="1797.5" font-family="Liberation Sans, sans-serif" font-size="31.5" fill="#231815" textLength="217.5" lengthAdjust="spacingAndGlyphs">Recycled Plastic</text>
<polyline points="1065.3,1039.6 1217.7,1039.6 1217.7,1317.5" fill="none" stroke="#141414" stroke-width="1.4"/>
<circle cx="1217.7" cy="1317.5" r="5.2" fill="#000"/>
<polyline points="1665.0,1038.2 1778.4,1038.2 1778.4,1141.8" fill="none" stroke="#141414" stroke-width="1.4"/>
<circle cx="1778.4" cy="1141.8" r="5.2" fill="#000"/>
<polyline points="1630.0,1614.4 1786.0,1614.4" fill="none" stroke="#141414" stroke-width="1.4"/>
<circle cx="1630.0" cy="1614.4" r="5.2" fill="#000"/>
<polyline points="1436.2,1635.8 1602.1,1782.2 1779.7,1782.2" fill="none" stroke="#141414" stroke-width="1.4"/>
<circle cx="1436.2" cy="1635.8" r="5.2" fill="#000"/>
</svg>
</body></html>
